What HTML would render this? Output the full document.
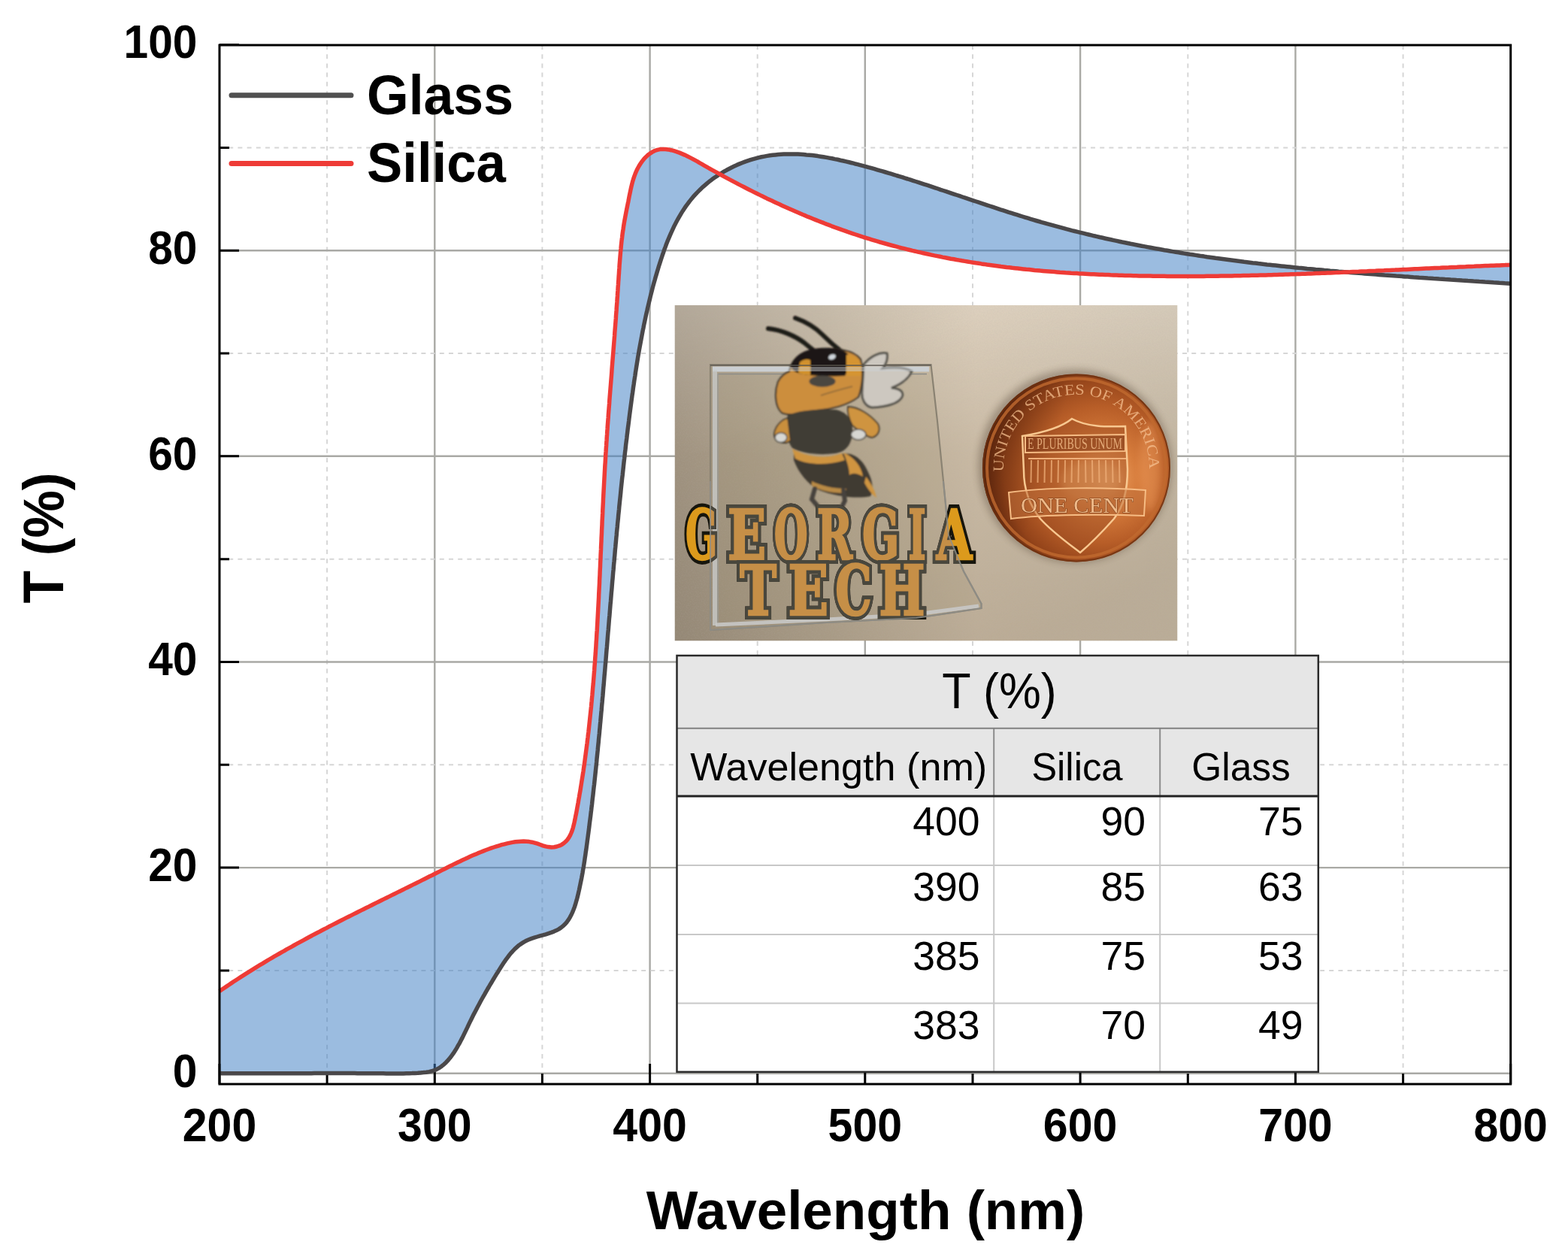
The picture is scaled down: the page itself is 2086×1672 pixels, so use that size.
<!DOCTYPE html>
<html><head><meta charset="utf-8"><title>Transmittance of Glass and Silica</title>
<style>
html,body{margin:0;padding:0;background:#fff;}
svg{display:block;}
text{font-family:"Liberation Sans",Arial,sans-serif;fill:#000;}
.gs{stroke:#a9a9a5;stroke-width:2.4;}
.gd{stroke:#d6d6d6;stroke-width:2;stroke-dasharray:6 6.2;}
.tl text{font-size:62.5px;font-weight:bold;}
.at{font-size:73px;font-weight:bold;}
.lg{font-size:74px;font-weight:bold;}
.th1{font-size:66px;}
.th2{font-size:52.5px;}
.td{font-size:53.5px;}
</style></head>
<body>
<svg width="2086" height="1672" viewBox="0 0 2086 1672">
<rect width="2086" height="1672" fill="#fff"/>
<line x1="435.1" y1="60.0" x2="435.1" y2="1442.0" class="gd"/>
<line x1="721.4" y1="60.0" x2="721.4" y2="1442.0" class="gd"/>
<line x1="1007.7" y1="60.0" x2="1007.7" y2="1442.0" class="gd"/>
<line x1="1294.0" y1="60.0" x2="1294.0" y2="1442.0" class="gd"/>
<line x1="1580.3" y1="60.0" x2="1580.3" y2="1442.0" class="gd"/>
<line x1="1866.6" y1="60.0" x2="1866.6" y2="1442.0" class="gd"/>
<line x1="578.3" y1="60.0" x2="578.3" y2="1442.0" class="gs"/>
<line x1="864.6" y1="60.0" x2="864.6" y2="1442.0" class="gs"/>
<line x1="1150.8" y1="60.0" x2="1150.8" y2="1442.0" class="gs"/>
<line x1="1437.1" y1="60.0" x2="1437.1" y2="1442.0" class="gs"/>
<line x1="1723.4" y1="60.0" x2="1723.4" y2="1442.0" class="gs"/>
<line x1="292.0" y1="1290.9" x2="2009.7" y2="1290.9" class="gd"/>
<line x1="292.0" y1="1017.3" x2="2009.7" y2="1017.3" class="gd"/>
<line x1="292.0" y1="743.7" x2="2009.7" y2="743.7" class="gd"/>
<line x1="292.0" y1="470.0" x2="2009.7" y2="470.0" class="gd"/>
<line x1="292.0" y1="196.4" x2="2009.7" y2="196.4" class="gd"/>
<line x1="292.0" y1="1427.7" x2="2009.7" y2="1427.7" class="gs"/>
<line x1="292.0" y1="1154.1" x2="2009.7" y2="1154.1" class="gs"/>
<line x1="292.0" y1="880.5" x2="2009.7" y2="880.5" class="gs"/>
<line x1="292.0" y1="606.8" x2="2009.7" y2="606.8" class="gs"/>
<line x1="292.0" y1="333.2" x2="2009.7" y2="333.2" class="gs"/>
<path d="M292.0,1427.7h26 M292.0,1290.9h13 M292.0,1154.1h26 M292.0,1017.3h13 M292.0,880.5h26 M292.0,743.7h13 M292.0,606.8h26 M292.0,470.0h13 M292.0,333.2h26 M292.0,196.4h13 M292.0,59.6h26 M292.0,1442.0v-27 M435.1,1442.0v-14 M578.3,1442.0v-27 M721.4,1442.0v-14 M864.6,1442.0v-27 M1007.7,1442.0v-14 M1150.8,1442.0v-27 M1294.0,1442.0v-14 M1437.1,1442.0v-27 M1580.3,1442.0v-14 M1723.4,1442.0v-27 M1866.6,1442.0v-14 M2009.7,1442.0v-27" stroke="#000" stroke-width="3" fill="none"/>
<path d="M292.0,1318.5 L295.1,1316.3 L298.2,1314.2 L301.3,1312.1 L304.5,1310.0 L307.6,1307.9 L310.7,1305.8 L313.9,1303.7 L317.0,1301.7 L320.2,1299.6 L323.4,1297.6 L326.5,1295.6 L329.7,1293.6 L332.9,1291.6 L336.1,1289.6 L339.3,1287.6 L342.5,1285.6 L345.7,1283.7 L348.9,1281.8 L352.1,1279.8 L355.3,1277.9 L358.5,1276.0 L361.8,1274.1 L365.0,1272.2 L368.2,1270.4 L371.5,1268.5 L374.7,1266.6 L378.0,1264.8 L381.2,1262.9 L384.5,1261.1 L387.8,1259.3 L391.0,1257.5 L394.3,1255.7 L397.6,1253.9 L400.9,1252.1 L404.2,1250.3 L407.5,1248.5 L410.7,1246.8 L414.0,1245.0 L417.3,1243.2 L420.6,1241.5 L424.0,1239.8 L427.3,1238.0 L430.6,1236.3 L433.9,1234.6 L437.2,1232.8 L440.5,1231.1 L443.9,1229.4 L447.2,1227.7 L450.5,1226.0 L453.9,1224.3 L457.2,1222.6 L460.5,1220.9 L463.9,1219.2 L467.2,1217.6 L470.6,1215.9 L473.9,1214.2 L477.3,1212.5 L480.6,1210.9 L484.0,1209.2 L487.3,1207.5 L490.7,1205.9 L494.0,1204.2 L497.4,1202.5 L500.7,1200.9 L504.1,1199.2 L507.5,1197.5 L510.8,1195.9 L514.2,1194.2 L517.5,1192.6 L520.9,1190.9 L524.3,1189.2 L527.6,1187.6 L531.0,1185.9 L534.4,1184.3 L537.7,1182.6 L541.1,1180.9 L544.5,1179.3 L547.8,1177.6 L551.2,1175.9 L554.6,1174.3 L558.0,1172.6 L561.3,1170.9 L564.7,1169.2 L568.1,1167.5 L571.4,1165.8 L574.8,1164.2 L578.1,1162.5 L581.5,1160.8 L584.9,1159.1 L588.2,1157.4 L591.6,1155.7 L595.0,1154.0 L598.3,1152.3 L601.7,1150.6 L605.1,1148.9 L608.5,1147.3 L611.9,1145.7 L615.3,1144.0 L618.7,1142.5 L622.1,1140.9 L625.5,1139.3 L628.9,1137.8 L632.4,1136.4 L635.8,1134.9 L639.3,1133.5 L642.8,1132.1 L646.2,1130.8 L649.7,1129.5 L653.3,1128.2 L656.8,1127.0 L660.3,1125.9 L663.9,1124.8 L667.5,1123.7 L671.1,1122.8 L674.7,1121.9 L678.3,1121.1 L682.0,1120.4 L685.6,1119.8 L689.3,1119.4 L692.9,1119.2 L696.6,1119.1 L700.3,1119.3 L704.0,1119.6 L707.6,1120.2 L711.3,1121.1 L715.0,1122.2 L718.6,1123.5 L722.3,1124.8 L726.0,1125.9 L729.7,1126.6 L733.5,1126.9 L737.2,1126.7 L740.8,1126.0 L744.2,1124.9 L747.4,1123.4 L750.2,1121.5 L752.7,1119.3 L754.9,1116.9 L756.8,1114.2 L758.5,1111.2 L759.9,1108.0 L761.2,1104.7 L762.3,1101.2 L763.2,1097.6 L764.1,1093.9 L764.9,1090.2 L765.6,1086.4 L766.4,1082.6 L767.1,1078.9 L767.8,1075.1 L768.5,1071.3 L769.2,1067.5 L769.8,1063.7 L770.5,1060.0 L771.1,1056.2 L771.8,1052.4 L772.4,1048.7 L773.0,1044.9 L773.6,1041.1 L774.2,1037.3 L774.8,1033.6 L775.4,1029.8 L776.0,1026.1 L776.5,1022.3 L777.1,1018.5 L777.6,1014.8 L778.1,1011.0 L778.6,1007.2 L779.1,1003.5 L779.6,999.7 L780.1,996.0 L780.6,992.2 L781.1,988.5 L781.5,984.7 L782.0,981.0 L782.4,977.2 L782.9,973.5 L783.3,969.7 L783.7,966.0 L784.1,962.2 L784.5,958.5 L784.9,954.7 L785.3,951.0 L785.7,947.2 L786.1,943.5 L786.5,939.8 L786.8,936.0 L787.2,932.3 L787.5,928.5 L787.9,924.8 L788.2,921.1 L788.5,917.3 L788.8,913.6 L789.2,909.9 L789.5,906.1 L789.8,902.4 L790.1,898.6 L790.4,894.9 L790.7,891.2 L790.9,887.4 L791.2,883.7 L791.5,880.0 L791.7,876.3 L792.0,872.5 L792.3,868.8 L792.5,865.1 L792.8,861.3 L793.0,857.6 L793.2,853.9 L793.5,850.1 L793.7,846.4 L793.9,842.7 L794.2,839.0 L794.4,835.2 L794.6,831.5 L794.8,827.8 L795.0,824.0 L795.2,820.3 L795.4,816.6 L795.6,812.9 L795.8,809.1 L796.0,805.4 L796.2,801.7 L796.4,798.0 L796.6,794.2 L796.7,790.5 L796.9,786.8 L797.1,783.1 L797.3,779.3 L797.5,775.6 L797.6,771.9 L797.8,768.2 L798.0,764.4 L798.1,760.7 L798.3,757.0 L798.5,753.3 L798.6,749.5 L798.8,745.8 L799.0,742.1 L799.1,738.3 L799.3,734.6 L799.5,730.9 L799.6,727.2 L799.8,723.4 L800.0,719.7 L800.1,716.0 L800.3,712.3 L800.5,708.5 L800.6,704.8 L800.8,701.1 L801.0,697.3 L801.1,693.6 L801.3,689.9 L801.5,686.1 L801.7,682.4 L801.8,678.7 L802.0,674.9 L802.2,671.2 L802.4,667.5 L802.5,663.7 L802.7,660.0 L802.9,656.3 L803.1,652.5 L803.3,648.8 L803.5,645.1 L803.7,641.3 L803.9,637.6 L804.1,633.9 L804.3,630.1 L804.5,626.4 L804.7,622.6 L804.9,618.9 L805.2,615.1 L805.4,611.4 L805.6,607.7 L805.8,603.9 L806.1,600.2 L806.3,596.4 L806.6,592.7 L806.8,588.9 L807.1,585.2 L807.3,581.4 L807.6,577.7 L807.8,573.9 L808.1,570.2 L808.3,566.4 L808.6,562.7 L808.9,558.9 L809.2,555.2 L809.4,551.4 L809.7,547.7 L810.0,543.9 L810.3,540.2 L810.6,536.4 L810.8,532.7 L811.1,528.9 L811.4,525.1 L811.7,521.4 L812.0,517.6 L812.3,513.9 L812.6,510.1 L812.9,506.4 L813.2,502.6 L813.5,498.9 L813.8,495.1 L814.0,491.4 L814.3,487.6 L814.6,483.9 L814.9,480.1 L815.2,476.4 L815.5,472.6 L815.8,468.9 L816.1,465.1 L816.4,461.3 L816.7,457.6 L817.0,453.9 L817.3,450.1 L817.6,446.4 L817.8,442.6 L818.1,438.9 L818.4,435.1 L818.7,431.4 L819.0,427.6 L819.3,423.9 L819.5,420.1 L819.8,416.4 L820.1,412.7 L820.3,408.9 L820.6,405.2 L820.9,401.4 L821.1,397.7 L821.4,394.0 L821.6,390.2 L821.9,386.5 L822.1,382.8 L822.4,379.0 L822.6,375.3 L822.9,371.6 L823.1,367.9 L823.4,364.1 L823.6,360.4 L823.9,356.7 L824.1,353.0 L824.4,349.2 L824.7,345.5 L825.0,341.8 L825.3,338.1 L825.6,334.4 L826.0,330.7 L826.3,327.0 L826.7,323.2 L827.1,319.5 L827.6,315.8 L828.0,312.1 L828.5,308.4 L829.1,304.7 L829.6,301.0 L830.2,297.3 L830.8,293.7 L831.5,290.0 L832.2,286.3 L832.9,282.6 L833.6,278.9 L834.4,275.2 L835.1,271.5 L835.9,267.8 L836.6,264.0 L837.3,260.3 L838.1,256.6 L838.9,252.8 L839.7,249.1 L840.6,245.4 L841.5,241.8 L842.6,238.2 L843.8,234.6 L845.1,231.1 L846.5,227.7 L848.2,224.3 L850.0,221.0 L852.0,217.8 L854.2,214.6 L856.5,211.7 L859.1,208.9 L861.9,206.3 L864.8,204.1 L867.9,202.1 L871.1,200.5 L874.5,199.4 L878.0,198.6 L881.6,198.4 L885.3,198.5 L889.1,198.9 L892.8,199.7 L896.6,200.7 L900.3,201.8 L903.9,203.1 L907.4,204.6 L910.9,206.1 L914.3,207.7 L917.6,209.4 L920.9,211.1 L924.2,212.9 L927.5,214.7 L930.7,216.6 L933.9,218.4 L937.2,220.3 L940.4,222.1 L943.6,224.0 L946.9,225.8 L950.2,227.6 L953.4,229.4 L956.7,231.2 L960.0,233.0 L963.3,234.8 L966.6,236.6 L969.9,238.4 L973.2,240.1 L976.5,241.9 L979.8,243.6 L983.1,245.4 L986.5,247.1 L989.8,248.8 L993.1,250.5 L996.5,252.2 L999.8,253.9 L1003.2,255.6 L1006.6,257.3 L1009.9,258.9 L1013.3,260.6 L1016.7,262.2 L1020.1,263.9 L1023.5,265.5 L1026.9,267.1 L1030.3,268.7 L1033.7,270.3 L1037.1,271.8 L1040.5,273.4 L1044.0,275.0 L1047.4,276.5 L1050.8,278.0 L1054.3,279.5 L1057.7,281.0 L1061.2,282.5 L1064.6,284.0 L1068.1,285.5 L1071.6,286.9 L1075.0,288.4 L1078.5,289.8 L1082.0,291.2 L1085.5,292.6 L1089.0,294.0 L1092.5,295.4 L1096.0,296.7 L1099.5,298.1 L1103.0,299.4 L1106.5,300.8 L1110.0,302.1 L1113.6,303.3 L1117.1,304.6 L1120.6,305.9 L1124.2,307.1 L1127.7,308.4 L1131.2,309.6 L1134.8,310.8 L1138.4,312.0 L1141.9,313.2 L1145.5,314.3 L1149.0,315.5 L1152.6,316.6 L1156.2,317.7 L1159.8,318.8 L1163.4,319.9 L1166.9,320.9 L1170.5,322.0 L1174.1,323.0 L1177.7,324.0 L1181.3,325.0 L1184.9,326.0 L1188.6,327.0 L1192.2,327.9 L1195.8,328.9 L1199.4,329.8 L1203.0,330.7 L1206.7,331.6 L1210.3,332.5 L1213.9,333.4 L1217.6,334.2 L1221.2,335.1 L1224.8,335.9 L1228.5,336.7 L1232.1,337.5 L1235.8,338.3 L1239.4,339.1 L1243.1,339.9 L1246.8,340.6 L1250.4,341.3 L1254.1,342.1 L1257.8,342.8 L1261.4,343.5 L1265.1,344.2 L1268.8,344.8 L1272.5,345.5 L1276.2,346.1 L1279.8,346.8 L1283.5,347.4 L1287.2,348.0 L1290.9,348.6 L1294.6,349.2 L1298.3,349.8 L1302.0,350.3 L1305.7,350.9 L1309.4,351.4 L1313.1,352.0 L1316.8,352.5 L1320.5,353.0 L1324.3,353.5 L1328.0,354.0 L1331.7,354.5 L1335.4,354.9 L1339.1,355.4 L1342.8,355.8 L1346.6,356.3 L1350.3,356.7 L1354.0,357.1 L1357.8,357.5 L1361.5,357.9 L1365.2,358.3 L1368.9,358.6 L1372.7,359.0 L1376.4,359.4 L1380.2,359.7 L1383.9,360.1 L1387.6,360.4 L1391.4,360.7 L1395.1,361.0 L1398.9,361.3 L1402.6,361.6 L1406.3,361.9 L1410.1,362.2 L1413.8,362.4 L1417.6,362.7 L1421.3,362.9 L1425.1,363.2 L1428.8,363.4 L1432.6,363.6 L1436.3,363.9 L1440.1,364.1 L1443.8,364.3 L1447.6,364.5 L1451.4,364.7 L1455.1,364.8 L1458.9,365.0 L1462.6,365.2 L1466.4,365.3 L1470.1,365.5 L1473.9,365.6 L1477.6,365.8 L1481.4,365.9 L1485.2,366.0 L1488.9,366.2 L1492.7,366.3 L1496.4,366.4 L1500.2,366.5 L1503.9,366.6 L1507.7,366.7 L1511.5,366.8 L1515.2,366.9 L1519.0,366.9 L1522.7,367.0 L1526.5,367.1 L1530.2,367.1 L1534.0,367.2 L1537.8,367.2 L1541.5,367.3 L1545.3,367.3 L1549.0,367.3 L1552.8,367.4 L1556.5,367.4 L1560.3,367.4 L1564.0,367.4 L1567.8,367.5 L1571.5,367.5 L1575.3,367.5 L1579.0,367.5 L1582.8,367.5 L1586.5,367.4 L1590.3,367.4 L1594.0,367.4 L1597.8,367.4 L1601.5,367.4 L1605.3,367.3 L1609.0,367.3 L1612.8,367.3 L1616.5,367.2 L1620.2,367.2 L1624.0,367.1 L1627.7,367.1 L1631.5,367.0 L1635.2,367.0 L1639.0,366.9 L1642.7,366.8 L1646.5,366.8 L1650.2,366.7 L1654.0,366.6 L1657.7,366.5 L1661.4,366.4 L1665.2,366.3 L1668.9,366.3 L1672.7,366.2 L1676.4,366.1 L1680.2,366.0 L1683.9,365.9 L1687.6,365.8 L1691.4,365.7 L1695.1,365.5 L1698.9,365.4 L1702.6,365.3 L1706.4,365.2 L1710.1,365.1 L1713.8,365.0 L1717.6,364.8 L1721.3,364.7 L1725.1,364.6 L1728.8,364.4 L1732.5,364.3 L1736.3,364.2 L1740.0,364.0 L1743.8,363.9 L1747.5,363.8 L1751.3,363.6 L1755.0,363.5 L1758.7,363.3 L1762.5,363.2 L1766.2,363.0 L1770.0,362.9 L1773.7,362.7 L1777.4,362.6 L1781.2,362.4 L1784.9,362.3 L1788.7,362.1 L1792.4,361.9 L1796.1,361.8 L1799.9,361.6 L1803.6,361.4 L1807.4,361.3 L1811.1,361.1 L1814.9,360.9 L1818.6,360.8 L1822.3,360.6 L1826.1,360.4 L1829.8,360.3 L1833.6,360.1 L1837.3,359.9 L1841.0,359.8 L1844.8,359.6 L1848.5,359.4 L1852.3,359.2 L1856.0,359.1 L1859.8,358.9 L1863.5,358.7 L1867.2,358.5 L1871.0,358.4 L1874.7,358.2 L1878.5,358.0 L1882.2,357.8 L1886.0,357.7 L1889.7,357.5 L1893.5,357.3 L1897.2,357.1 L1900.9,357.0 L1904.7,356.8 L1908.4,356.6 L1912.2,356.4 L1915.9,356.3 L1919.7,356.1 L1923.4,355.9 L1927.2,355.8 L1930.9,355.6 L1934.7,355.4 L1938.4,355.3 L1942.2,355.1 L1945.9,354.9 L1949.7,354.8 L1953.4,354.6 L1957.2,354.4 L1960.9,354.3 L1964.7,354.1 L1968.4,354.0 L1972.2,353.8 L1975.9,353.6 L1979.7,353.5 L1983.4,353.3 L1987.2,353.2 L1990.9,353.0 L1994.7,352.9 L1998.4,352.7 L2002.2,352.6 L2005.9,352.4 L2009.7,352.3 L2009.7,377.2 L2005.9,376.9 L2002.1,376.7 L1998.3,376.4 L1994.6,376.2 L1990.8,375.9 L1987.0,375.7 L1983.2,375.4 L1979.4,375.2 L1975.6,375.0 L1971.8,374.7 L1968.0,374.5 L1964.2,374.2 L1960.4,374.0 L1956.6,373.7 L1952.8,373.5 L1949.0,373.2 L1945.2,373.0 L1941.4,372.7 L1937.6,372.5 L1933.8,372.2 L1930.0,372.0 L1926.2,371.7 L1922.3,371.5 L1918.5,371.2 L1914.7,371.0 L1910.9,370.7 L1907.1,370.5 L1903.3,370.2 L1899.5,370.0 L1895.7,369.7 L1891.8,369.4 L1888.0,369.2 L1884.2,368.9 L1880.4,368.7 L1876.6,368.4 L1872.8,368.1 L1868.9,367.9 L1865.1,367.6 L1861.3,367.3 L1857.5,367.1 L1853.7,366.8 L1849.8,366.5 L1846.0,366.2 L1842.2,366.0 L1838.4,365.7 L1834.5,365.4 L1830.7,365.1 L1826.9,364.8 L1823.1,364.5 L1819.3,364.2 L1815.4,363.9 L1811.6,363.6 L1807.8,363.3 L1804.0,363.0 L1800.1,362.7 L1796.3,362.4 L1792.5,362.1 L1788.7,361.8 L1784.8,361.5 L1781.0,361.2 L1777.2,360.8 L1773.4,360.5 L1769.6,360.2 L1765.7,359.8 L1761.9,359.5 L1758.1,359.1 L1754.3,358.8 L1750.4,358.5 L1746.6,358.1 L1742.8,357.7 L1739.0,357.4 L1735.2,357.0 L1731.3,356.6 L1727.5,356.3 L1723.7,355.9 L1719.9,355.5 L1716.1,355.1 L1712.3,354.7 L1708.4,354.3 L1704.6,353.9 L1700.8,353.5 L1697.0,353.1 L1693.2,352.7 L1689.4,352.3 L1685.6,351.9 L1681.8,351.4 L1678.0,351.0 L1674.1,350.6 L1670.3,350.1 L1666.5,349.7 L1662.7,349.2 L1658.9,348.7 L1655.1,348.3 L1651.3,347.8 L1647.5,347.3 L1643.7,346.8 L1639.9,346.3 L1636.1,345.8 L1632.3,345.3 L1628.5,344.8 L1624.7,344.3 L1620.9,343.8 L1617.1,343.3 L1613.4,342.7 L1609.6,342.2 L1605.8,341.7 L1602.0,341.1 L1598.2,340.6 L1594.4,340.0 L1590.6,339.4 L1586.9,338.8 L1583.1,338.3 L1579.3,337.7 L1575.5,337.1 L1571.8,336.5 L1568.0,335.8 L1564.2,335.2 L1560.4,334.6 L1556.7,334.0 L1552.9,333.3 L1549.1,332.7 L1545.4,332.0 L1541.6,331.3 L1537.9,330.7 L1534.1,330.0 L1530.4,329.3 L1526.6,328.6 L1522.9,327.9 L1519.1,327.2 L1515.4,326.5 L1511.6,325.7 L1507.9,325.0 L1504.1,324.3 L1500.4,323.5 L1496.7,322.7 L1492.9,322.0 L1489.2,321.2 L1485.5,320.4 L1481.7,319.6 L1478.0,318.8 L1474.3,318.0 L1470.6,317.2 L1466.8,316.3 L1463.1,315.5 L1459.4,314.6 L1455.7,313.8 L1452.0,312.9 L1448.3,312.0 L1444.6,311.1 L1440.9,310.2 L1437.2,309.3 L1433.5,308.4 L1429.8,307.5 L1426.1,306.6 L1422.4,305.6 L1418.7,304.7 L1415.1,303.7 L1411.4,302.7 L1407.7,301.7 L1404.0,300.7 L1400.4,299.7 L1396.7,298.7 L1393.0,297.7 L1389.4,296.6 L1385.7,295.6 L1382.0,294.5 L1378.4,293.5 L1374.7,292.4 L1371.1,291.3 L1367.5,290.2 L1363.8,289.1 L1360.2,288.0 L1356.5,286.8 L1352.9,285.7 L1349.3,284.6 L1345.6,283.4 L1342.0,282.3 L1338.4,281.1 L1334.7,279.9 L1331.1,278.8 L1327.5,277.6 L1323.9,276.4 L1320.2,275.2 L1316.6,274.0 L1313.0,272.8 L1309.4,271.6 L1305.7,270.4 L1302.1,269.2 L1298.5,268.0 L1294.9,266.8 L1291.2,265.6 L1287.6,264.4 L1284.0,263.2 L1280.4,262.0 L1276.7,260.7 L1273.1,259.5 L1269.5,258.3 L1265.8,257.1 L1262.2,255.9 L1258.6,254.7 L1255.0,253.5 L1251.3,252.3 L1247.7,251.0 L1244.0,249.8 L1240.4,248.6 L1236.8,247.4 L1233.1,246.2 L1229.5,245.1 L1225.8,243.9 L1222.1,242.7 L1218.5,241.5 L1214.8,240.3 L1211.2,239.2 L1207.5,238.0 L1203.8,236.9 L1200.2,235.7 L1196.5,234.6 L1192.8,233.5 L1189.1,232.3 L1185.4,231.2 L1181.7,230.1 L1178.0,229.0 L1174.3,227.9 L1170.6,226.9 L1166.9,225.8 L1163.2,224.7 L1159.5,223.7 L1155.7,222.7 L1152.0,221.6 L1148.3,220.6 L1144.5,219.6 L1140.8,218.6 L1137.0,217.7 L1133.3,216.7 L1129.5,215.8 L1125.7,214.9 L1122.0,214.0 L1118.2,213.2 L1114.4,212.3 L1110.6,211.6 L1106.9,210.8 L1103.1,210.1 L1099.3,209.4 L1095.5,208.8 L1091.8,208.2 L1088.0,207.6 L1084.2,207.1 L1080.4,206.6 L1076.6,206.2 L1072.9,205.9 L1069.1,205.5 L1065.3,205.3 L1061.6,205.1 L1057.8,205.0 L1054.0,204.9 L1050.3,204.9 L1046.5,204.9 L1042.8,205.1 L1039.1,205.3 L1035.3,205.5 L1031.6,205.9 L1027.9,206.3 L1024.2,206.8 L1020.4,207.4 L1016.7,208.1 L1013.0,208.8 L1009.4,209.6 L1005.7,210.6 L1002.0,211.6 L998.4,212.7 L994.7,213.9 L991.1,215.1 L987.5,216.5 L984.0,217.9 L980.4,219.4 L976.9,221.0 L973.4,222.7 L970.0,224.5 L966.6,226.3 L963.2,228.2 L959.9,230.2 L956.6,232.3 L953.4,234.4 L950.2,236.6 L947.1,238.8 L944.0,241.2 L941.0,243.6 L938.1,246.1 L935.2,248.6 L932.4,251.2 L929.7,253.9 L927.0,256.6 L924.4,259.4 L921.9,262.2 L919.5,265.1 L917.1,268.1 L914.9,271.1 L912.6,274.1 L910.5,277.2 L908.4,280.4 L906.4,283.6 L904.5,286.8 L902.6,290.1 L900.7,293.5 L899.0,296.8 L897.2,300.2 L895.6,303.6 L894.0,307.1 L892.4,310.6 L890.9,314.1 L889.4,317.7 L887.9,321.2 L886.5,324.8 L885.2,328.4 L883.8,332.0 L882.6,335.7 L881.3,339.3 L880.1,343.0 L878.9,346.7 L877.7,350.3 L876.5,354.0 L875.4,357.7 L874.3,361.4 L873.2,365.1 L872.1,368.8 L871.1,372.5 L870.0,376.2 L869.0,379.9 L868.0,383.6 L867.1,387.3 L866.1,391.0 L865.2,394.7 L864.3,398.5 L863.4,402.2 L862.5,405.9 L861.6,409.6 L860.8,413.4 L859.9,417.1 L859.1,420.8 L858.3,424.6 L857.5,428.3 L856.7,432.0 L856.0,435.8 L855.2,439.5 L854.5,443.3 L853.8,447.0 L853.1,450.7 L852.4,454.5 L851.7,458.2 L851.0,462.0 L850.3,465.8 L849.7,469.5 L849.0,473.3 L848.4,477.0 L847.8,480.8 L847.2,484.5 L846.6,488.3 L846.0,492.1 L845.4,495.8 L844.9,499.6 L844.3,503.4 L843.7,507.1 L843.2,510.9 L842.6,514.7 L842.1,518.5 L841.6,522.2 L841.0,526.0 L840.5,529.8 L840.0,533.6 L839.5,537.3 L839.0,541.1 L838.5,544.9 L838.0,548.7 L837.5,552.5 L837.0,556.3 L836.6,560.0 L836.1,563.8 L835.6,567.6 L835.1,571.4 L834.7,575.2 L834.2,579.0 L833.8,582.8 L833.3,586.5 L832.8,590.3 L832.4,594.1 L832.0,597.9 L831.5,601.7 L831.1,605.5 L830.7,609.3 L830.2,613.1 L829.8,616.9 L829.4,620.7 L829.0,624.5 L828.6,628.3 L828.2,632.1 L827.7,635.9 L827.3,639.7 L826.9,643.5 L826.5,647.3 L826.1,651.1 L825.8,654.9 L825.4,658.7 L825.0,662.5 L824.6,666.3 L824.2,670.1 L823.8,673.9 L823.5,677.7 L823.1,681.5 L822.7,685.3 L822.4,689.1 L822.0,692.9 L821.6,696.7 L821.3,700.5 L820.9,704.3 L820.5,708.1 L820.2,712.0 L819.8,715.8 L819.5,719.6 L819.1,723.4 L818.8,727.2 L818.4,731.0 L818.1,734.8 L817.8,738.6 L817.4,742.4 L817.1,746.3 L816.7,750.1 L816.4,753.9 L816.1,757.7 L815.7,761.5 L815.4,765.3 L815.1,769.1 L814.7,773.0 L814.4,776.8 L814.1,780.6 L813.8,784.4 L813.4,788.2 L813.1,792.0 L812.8,795.8 L812.5,799.7 L812.1,803.5 L811.8,807.3 L811.5,811.1 L811.2,814.9 L810.9,818.8 L810.5,822.6 L810.2,826.4 L809.9,830.2 L809.6,834.0 L809.3,837.8 L808.9,841.7 L808.6,845.5 L808.3,849.3 L808.0,853.1 L807.7,856.9 L807.4,860.8 L807.0,864.6 L806.7,868.4 L806.4,872.2 L806.1,876.0 L805.8,879.8 L805.4,883.7 L805.1,887.5 L804.8,891.3 L804.5,895.1 L804.1,898.9 L803.8,902.8 L803.5,906.6 L803.2,910.4 L802.8,914.2 L802.5,918.0 L802.2,921.8 L801.9,925.7 L801.5,929.5 L801.2,933.3 L800.8,937.1 L800.5,940.9 L800.2,944.7 L799.8,948.5 L799.5,952.4 L799.1,956.2 L798.8,960.0 L798.4,963.8 L798.1,967.6 L797.7,971.4 L797.4,975.2 L797.0,979.0 L796.6,982.8 L796.3,986.6 L795.9,990.4 L795.5,994.2 L795.2,998.0 L794.8,1001.8 L794.4,1005.6 L794.0,1009.4 L793.7,1013.2 L793.3,1017.0 L792.9,1020.8 L792.5,1024.6 L792.1,1028.4 L791.7,1032.2 L791.3,1036.0 L790.9,1039.8 L790.5,1043.6 L790.0,1047.4 L789.6,1051.2 L789.2,1054.9 L788.8,1058.7 L788.3,1062.5 L787.9,1066.3 L787.5,1070.1 L787.0,1073.8 L786.6,1077.6 L786.1,1081.4 L785.7,1085.2 L785.2,1088.9 L784.7,1092.7 L784.2,1096.5 L783.8,1100.2 L783.3,1104.0 L782.8,1107.8 L782.3,1111.5 L781.8,1115.3 L781.3,1119.0 L780.8,1122.8 L780.3,1126.5 L779.8,1130.3 L779.2,1134.0 L778.7,1137.8 L778.1,1141.6 L777.6,1145.3 L777.0,1149.1 L776.4,1152.9 L775.7,1156.6 L775.1,1160.4 L774.4,1164.2 L773.7,1168.1 L772.9,1171.9 L772.1,1175.7 L771.3,1179.6 L770.5,1183.5 L769.6,1187.4 L768.7,1191.3 L767.7,1195.2 L766.6,1199.1 L765.5,1202.9 L764.3,1206.6 L762.9,1210.3 L761.4,1213.9 L759.8,1217.3 L758.0,1220.6 L756.1,1223.7 L754.0,1226.6 L751.6,1229.3 L749.1,1231.7 L746.4,1233.9 L743.4,1235.9 L740.2,1237.6 L736.8,1239.1 L733.3,1240.4 L729.7,1241.6 L726.0,1242.8 L722.2,1243.9 L718.4,1244.9 L714.7,1246.0 L710.9,1247.2 L707.2,1248.4 L703.6,1249.8 L700.2,1251.3 L696.8,1253.1 L693.7,1255.1 L690.6,1257.2 L687.8,1259.6 L685.0,1262.1 L682.4,1264.8 L679.9,1267.6 L677.5,1270.5 L675.2,1273.6 L672.9,1276.7 L670.7,1279.8 L668.6,1283.1 L666.5,1286.3 L664.4,1289.6 L662.4,1292.9 L660.3,1296.1 L658.3,1299.4 L656.3,1302.7 L654.4,1306.0 L652.4,1309.2 L650.5,1312.5 L648.5,1315.8 L646.6,1319.1 L644.8,1322.4 L642.9,1325.7 L641.0,1329.0 L639.2,1332.3 L637.4,1335.7 L635.6,1339.0 L633.8,1342.4 L632.1,1345.7 L630.3,1349.1 L628.6,1352.5 L626.9,1356.0 L625.2,1359.4 L623.5,1362.9 L621.9,1366.4 L620.2,1369.9 L618.5,1373.4 L616.8,1376.9 L615.1,1380.4 L613.3,1383.8 L611.5,1387.3 L609.5,1390.7 L607.6,1394.1 L605.5,1397.5 L603.3,1400.9 L601.0,1404.1 L598.6,1407.3 L596.0,1410.3 L593.4,1413.2 L590.6,1415.8 L587.6,1418.2 L584.6,1420.4 L581.3,1422.2 L578.0,1423.6 L574.5,1424.8 L570.8,1425.6 L567.1,1426.2 L563.4,1426.6 L559.6,1426.9 L555.8,1427.2 L552.0,1427.4 L548.2,1427.6 L544.4,1427.7 L540.5,1427.8 L536.7,1427.9 L532.9,1427.9 L529.1,1427.9 L525.3,1427.9 L521.4,1427.9 L517.6,1427.9 L513.8,1427.9 L509.9,1427.8 L506.1,1427.8 L502.3,1427.8 L498.5,1427.7 L494.6,1427.7 L490.8,1427.7 L487.0,1427.7 L483.2,1427.7 L479.3,1427.7 L475.5,1427.7 L471.7,1427.6 L467.9,1427.6 L464.0,1427.6 L460.2,1427.6 L456.4,1427.6 L452.6,1427.6 L448.7,1427.6 L444.9,1427.6 L441.1,1427.6 L437.3,1427.6 L433.5,1427.6 L429.6,1427.6 L425.8,1427.6 L422.0,1427.6 L418.2,1427.6 L414.3,1427.7 L410.5,1427.7 L406.7,1427.7 L402.9,1427.7 L399.1,1427.7 L395.2,1427.7 L391.4,1427.7 L387.6,1427.7 L383.8,1427.7 L379.9,1427.7 L376.1,1427.7 L372.3,1427.7 L368.5,1427.7 L364.7,1427.7 L360.8,1427.7 L357.0,1427.8 L353.2,1427.8 L349.4,1427.8 L345.5,1427.8 L341.7,1427.8 L337.9,1427.8 L334.1,1427.8 L330.2,1427.8 L326.4,1427.7 L322.6,1427.7 L318.8,1427.7 L314.9,1427.7 L311.1,1427.7 L307.3,1427.7 L303.5,1427.7 L299.6,1427.7 L295.8,1427.7 L292.0,1427.6 Z" fill="#3f7fc4" fill-opacity="0.52" stroke="none"/>
<path d="M292.0,1427.6 L295.8,1427.7 L299.6,1427.7 L303.5,1427.7 L307.3,1427.7 L311.1,1427.7 L314.9,1427.7 L318.8,1427.7 L322.6,1427.7 L326.4,1427.7 L330.2,1427.8 L334.1,1427.8 L337.9,1427.8 L341.7,1427.8 L345.5,1427.8 L349.4,1427.8 L353.2,1427.8 L357.0,1427.8 L360.8,1427.7 L364.7,1427.7 L368.5,1427.7 L372.3,1427.7 L376.1,1427.7 L379.9,1427.7 L383.8,1427.7 L387.6,1427.7 L391.4,1427.7 L395.2,1427.7 L399.1,1427.7 L402.9,1427.7 L406.7,1427.7 L410.5,1427.7 L414.3,1427.7 L418.2,1427.6 L422.0,1427.6 L425.8,1427.6 L429.6,1427.6 L433.5,1427.6 L437.3,1427.6 L441.1,1427.6 L444.9,1427.6 L448.7,1427.6 L452.6,1427.6 L456.4,1427.6 L460.2,1427.6 L464.0,1427.6 L467.9,1427.6 L471.7,1427.6 L475.5,1427.7 L479.3,1427.7 L483.2,1427.7 L487.0,1427.7 L490.8,1427.7 L494.6,1427.7 L498.5,1427.7 L502.3,1427.8 L506.1,1427.8 L509.9,1427.8 L513.8,1427.9 L517.6,1427.9 L521.4,1427.9 L525.3,1427.9 L529.1,1427.9 L532.9,1427.9 L536.7,1427.9 L540.5,1427.8 L544.4,1427.7 L548.2,1427.6 L552.0,1427.4 L555.8,1427.2 L559.6,1426.9 L563.4,1426.6 L567.1,1426.2 L570.8,1425.6 L574.5,1424.8 L578.0,1423.6 L581.3,1422.2 L584.6,1420.4 L587.6,1418.2 L590.6,1415.8 L593.4,1413.2 L596.0,1410.3 L598.6,1407.3 L601.0,1404.1 L603.3,1400.9 L605.5,1397.5 L607.6,1394.1 L609.5,1390.7 L611.5,1387.3 L613.3,1383.8 L615.1,1380.4 L616.8,1376.9 L618.5,1373.4 L620.2,1369.9 L621.9,1366.4 L623.5,1362.9 L625.2,1359.4 L626.9,1356.0 L628.6,1352.5 L630.3,1349.1 L632.1,1345.7 L633.8,1342.4 L635.6,1339.0 L637.4,1335.7 L639.2,1332.3 L641.0,1329.0 L642.9,1325.7 L644.8,1322.4 L646.6,1319.1 L648.5,1315.8 L650.5,1312.5 L652.4,1309.2 L654.4,1306.0 L656.3,1302.7 L658.3,1299.4 L660.3,1296.1 L662.4,1292.9 L664.4,1289.6 L666.5,1286.3 L668.6,1283.1 L670.7,1279.8 L672.9,1276.7 L675.2,1273.6 L677.5,1270.5 L679.9,1267.6 L682.4,1264.8 L685.0,1262.1 L687.8,1259.6 L690.6,1257.2 L693.7,1255.1 L696.8,1253.1 L700.2,1251.3 L703.6,1249.8 L707.2,1248.4 L710.9,1247.2 L714.7,1246.0 L718.4,1244.9 L722.2,1243.9 L726.0,1242.8 L729.7,1241.6 L733.3,1240.4 L736.8,1239.1 L740.2,1237.6 L743.4,1235.9 L746.4,1233.9 L749.1,1231.7 L751.6,1229.3 L754.0,1226.6 L756.1,1223.7 L758.0,1220.6 L759.8,1217.3 L761.4,1213.9 L762.9,1210.3 L764.3,1206.6 L765.5,1202.9 L766.6,1199.1 L767.7,1195.2 L768.7,1191.3 L769.6,1187.4 L770.5,1183.5 L771.3,1179.6 L772.1,1175.7 L772.9,1171.9 L773.7,1168.1 L774.4,1164.2 L775.1,1160.4 L775.7,1156.6 L776.4,1152.9 L777.0,1149.1 L777.6,1145.3 L778.1,1141.6 L778.7,1137.8 L779.2,1134.0 L779.8,1130.3 L780.3,1126.5 L780.8,1122.8 L781.3,1119.0 L781.8,1115.3 L782.3,1111.5 L782.8,1107.8 L783.3,1104.0 L783.8,1100.2 L784.2,1096.5 L784.7,1092.7 L785.2,1088.9 L785.7,1085.2 L786.1,1081.4 L786.6,1077.6 L787.0,1073.8 L787.5,1070.1 L787.9,1066.3 L788.3,1062.5 L788.8,1058.7 L789.2,1054.9 L789.6,1051.2 L790.0,1047.4 L790.5,1043.6 L790.9,1039.8 L791.3,1036.0 L791.7,1032.2 L792.1,1028.4 L792.5,1024.6 L792.9,1020.8 L793.3,1017.0 L793.7,1013.2 L794.0,1009.4 L794.4,1005.6 L794.8,1001.8 L795.2,998.0 L795.5,994.2 L795.9,990.4 L796.3,986.6 L796.6,982.8 L797.0,979.0 L797.4,975.2 L797.7,971.4 L798.1,967.6 L798.4,963.8 L798.8,960.0 L799.1,956.2 L799.5,952.4 L799.8,948.5 L800.2,944.7 L800.5,940.9 L800.8,937.1 L801.2,933.3 L801.5,929.5 L801.9,925.7 L802.2,921.8 L802.5,918.0 L802.8,914.2 L803.2,910.4 L803.5,906.6 L803.8,902.8 L804.1,898.9 L804.5,895.1 L804.8,891.3 L805.1,887.5 L805.4,883.7 L805.8,879.8 L806.1,876.0 L806.4,872.2 L806.7,868.4 L807.0,864.6 L807.4,860.8 L807.7,856.9 L808.0,853.1 L808.3,849.3 L808.6,845.5 L808.9,841.7 L809.3,837.8 L809.6,834.0 L809.9,830.2 L810.2,826.4 L810.5,822.6 L810.9,818.8 L811.2,814.9 L811.5,811.1 L811.8,807.3 L812.1,803.5 L812.5,799.7 L812.8,795.8 L813.1,792.0 L813.4,788.2 L813.8,784.4 L814.1,780.6 L814.4,776.8 L814.7,773.0 L815.1,769.1 L815.4,765.3 L815.7,761.5 L816.1,757.7 L816.4,753.9 L816.7,750.1 L817.1,746.3 L817.4,742.4 L817.8,738.6 L818.1,734.8 L818.4,731.0 L818.8,727.2 L819.1,723.4 L819.5,719.6 L819.8,715.8 L820.2,712.0 L820.5,708.1 L820.9,704.3 L821.3,700.5 L821.6,696.7 L822.0,692.9 L822.4,689.1 L822.7,685.3 L823.1,681.5 L823.5,677.7 L823.8,673.9 L824.2,670.1 L824.6,666.3 L825.0,662.5 L825.4,658.7 L825.8,654.9 L826.1,651.1 L826.5,647.3 L826.9,643.5 L827.3,639.7 L827.7,635.9 L828.2,632.1 L828.6,628.3 L829.0,624.5 L829.4,620.7 L829.8,616.9 L830.2,613.1 L830.7,609.3 L831.1,605.5 L831.5,601.7 L832.0,597.9 L832.4,594.1 L832.8,590.3 L833.3,586.5 L833.8,582.8 L834.2,579.0 L834.7,575.2 L835.1,571.4 L835.6,567.6 L836.1,563.8 L836.6,560.0 L837.0,556.3 L837.5,552.5 L838.0,548.7 L838.5,544.9 L839.0,541.1 L839.5,537.3 L840.0,533.6 L840.5,529.8 L841.0,526.0 L841.6,522.2 L842.1,518.5 L842.6,514.7 L843.2,510.9 L843.7,507.1 L844.3,503.4 L844.9,499.6 L845.4,495.8 L846.0,492.1 L846.6,488.3 L847.2,484.5 L847.8,480.8 L848.4,477.0 L849.0,473.3 L849.7,469.5 L850.3,465.8 L851.0,462.0 L851.7,458.2 L852.4,454.5 L853.1,450.7 L853.8,447.0 L854.5,443.3 L855.2,439.5 L856.0,435.8 L856.7,432.0 L857.5,428.3 L858.3,424.6 L859.1,420.8 L859.9,417.1 L860.8,413.4 L861.6,409.6 L862.5,405.9 L863.4,402.2 L864.3,398.5 L865.2,394.7 L866.1,391.0 L867.1,387.3 L868.0,383.6 L869.0,379.9 L870.0,376.2 L871.1,372.5 L872.1,368.8 L873.2,365.1 L874.3,361.4 L875.4,357.7 L876.5,354.0 L877.7,350.3 L878.9,346.7 L880.1,343.0 L881.3,339.3 L882.6,335.7 L883.8,332.0 L885.2,328.4 L886.5,324.8 L887.9,321.2 L889.4,317.7 L890.9,314.1 L892.4,310.6 L894.0,307.1 L895.6,303.6 L897.2,300.2 L899.0,296.8 L900.7,293.5 L902.6,290.1 L904.5,286.8 L906.4,283.6 L908.4,280.4 L910.5,277.2 L912.6,274.1 L914.9,271.1 L917.1,268.1 L919.5,265.1 L921.9,262.2 L924.4,259.4 L927.0,256.6 L929.7,253.9 L932.4,251.2 L935.2,248.6 L938.1,246.1 L941.0,243.6 L944.0,241.2 L947.1,238.8 L950.2,236.6 L953.4,234.4 L956.6,232.3 L959.9,230.2 L963.2,228.2 L966.6,226.3 L970.0,224.5 L973.4,222.7 L976.9,221.0 L980.4,219.4 L984.0,217.9 L987.5,216.5 L991.1,215.1 L994.7,213.9 L998.4,212.7 L1002.0,211.6 L1005.7,210.6 L1009.4,209.6 L1013.0,208.8 L1016.7,208.1 L1020.4,207.4 L1024.2,206.8 L1027.9,206.3 L1031.6,205.9 L1035.3,205.5 L1039.1,205.3 L1042.8,205.1 L1046.5,204.9 L1050.3,204.9 L1054.0,204.9 L1057.8,205.0 L1061.6,205.1 L1065.3,205.3 L1069.1,205.5 L1072.9,205.9 L1076.6,206.2 L1080.4,206.6 L1084.2,207.1 L1088.0,207.6 L1091.8,208.2 L1095.5,208.8 L1099.3,209.4 L1103.1,210.1 L1106.9,210.8 L1110.6,211.6 L1114.4,212.3 L1118.2,213.2 L1122.0,214.0 L1125.7,214.9 L1129.5,215.8 L1133.3,216.7 L1137.0,217.7 L1140.8,218.6 L1144.5,219.6 L1148.3,220.6 L1152.0,221.6 L1155.7,222.7 L1159.5,223.7 L1163.2,224.7 L1166.9,225.8 L1170.6,226.9 L1174.3,227.9 L1178.0,229.0 L1181.7,230.1 L1185.4,231.2 L1189.1,232.3 L1192.8,233.5 L1196.5,234.6 L1200.2,235.7 L1203.8,236.9 L1207.5,238.0 L1211.2,239.2 L1214.8,240.3 L1218.5,241.5 L1222.1,242.7 L1225.8,243.9 L1229.5,245.1 L1233.1,246.2 L1236.8,247.4 L1240.4,248.6 L1244.0,249.8 L1247.7,251.0 L1251.3,252.3 L1255.0,253.5 L1258.6,254.7 L1262.2,255.9 L1265.8,257.1 L1269.5,258.3 L1273.1,259.5 L1276.7,260.7 L1280.4,262.0 L1284.0,263.2 L1287.6,264.4 L1291.2,265.6 L1294.9,266.8 L1298.5,268.0 L1302.1,269.2 L1305.7,270.4 L1309.4,271.6 L1313.0,272.8 L1316.6,274.0 L1320.2,275.2 L1323.9,276.4 L1327.5,277.6 L1331.1,278.8 L1334.7,279.9 L1338.4,281.1 L1342.0,282.3 L1345.6,283.4 L1349.3,284.6 L1352.9,285.7 L1356.5,286.8 L1360.2,288.0 L1363.8,289.1 L1367.5,290.2 L1371.1,291.3 L1374.7,292.4 L1378.4,293.5 L1382.0,294.5 L1385.7,295.6 L1389.4,296.6 L1393.0,297.7 L1396.7,298.7 L1400.4,299.7 L1404.0,300.7 L1407.7,301.7 L1411.4,302.7 L1415.1,303.7 L1418.7,304.7 L1422.4,305.6 L1426.1,306.6 L1429.8,307.5 L1433.5,308.4 L1437.2,309.3 L1440.9,310.2 L1444.6,311.1 L1448.3,312.0 L1452.0,312.9 L1455.7,313.8 L1459.4,314.6 L1463.1,315.5 L1466.8,316.3 L1470.6,317.2 L1474.3,318.0 L1478.0,318.8 L1481.7,319.6 L1485.5,320.4 L1489.2,321.2 L1492.9,322.0 L1496.7,322.7 L1500.4,323.5 L1504.1,324.3 L1507.9,325.0 L1511.6,325.7 L1515.4,326.5 L1519.1,327.2 L1522.9,327.9 L1526.6,328.6 L1530.4,329.3 L1534.1,330.0 L1537.9,330.7 L1541.6,331.3 L1545.4,332.0 L1549.1,332.7 L1552.9,333.3 L1556.7,334.0 L1560.4,334.6 L1564.2,335.2 L1568.0,335.8 L1571.8,336.5 L1575.5,337.1 L1579.3,337.7 L1583.1,338.3 L1586.9,338.8 L1590.6,339.4 L1594.4,340.0 L1598.2,340.6 L1602.0,341.1 L1605.8,341.7 L1609.6,342.2 L1613.4,342.7 L1617.1,343.3 L1620.9,343.8 L1624.7,344.3 L1628.5,344.8 L1632.3,345.3 L1636.1,345.8 L1639.9,346.3 L1643.7,346.8 L1647.5,347.3 L1651.3,347.8 L1655.1,348.3 L1658.9,348.7 L1662.7,349.2 L1666.5,349.7 L1670.3,350.1 L1674.1,350.6 L1678.0,351.0 L1681.8,351.4 L1685.6,351.9 L1689.4,352.3 L1693.2,352.7 L1697.0,353.1 L1700.8,353.5 L1704.6,353.9 L1708.4,354.3 L1712.3,354.7 L1716.1,355.1 L1719.9,355.5 L1723.7,355.9 L1727.5,356.3 L1731.3,356.6 L1735.2,357.0 L1739.0,357.4 L1742.8,357.7 L1746.6,358.1 L1750.4,358.5 L1754.3,358.8 L1758.1,359.1 L1761.9,359.5 L1765.7,359.8 L1769.6,360.2 L1773.4,360.5 L1777.2,360.8 L1781.0,361.2 L1784.8,361.5 L1788.7,361.8 L1792.5,362.1 L1796.3,362.4 L1800.1,362.7 L1804.0,363.0 L1807.8,363.3 L1811.6,363.6 L1815.4,363.9 L1819.3,364.2 L1823.1,364.5 L1826.9,364.8 L1830.7,365.1 L1834.5,365.4 L1838.4,365.7 L1842.2,366.0 L1846.0,366.2 L1849.8,366.5 L1853.7,366.8 L1857.5,367.1 L1861.3,367.3 L1865.1,367.6 L1868.9,367.9 L1872.8,368.1 L1876.6,368.4 L1880.4,368.7 L1884.2,368.9 L1888.0,369.2 L1891.8,369.4 L1895.7,369.7 L1899.5,370.0 L1903.3,370.2 L1907.1,370.5 L1910.9,370.7 L1914.7,371.0 L1918.5,371.2 L1922.3,371.5 L1926.2,371.7 L1930.0,372.0 L1933.8,372.2 L1937.6,372.5 L1941.4,372.7 L1945.2,373.0 L1949.0,373.2 L1952.8,373.5 L1956.6,373.7 L1960.4,374.0 L1964.2,374.2 L1968.0,374.5 L1971.8,374.7 L1975.6,375.0 L1979.4,375.2 L1983.2,375.4 L1987.0,375.7 L1990.8,375.9 L1994.6,376.2 L1998.3,376.4 L2002.1,376.7 L2005.9,376.9 L2009.7,377.2" fill="none" stroke="#4a484a" stroke-width="5.5" stroke-linejoin="round"/>
<path d="M292.0,1318.5 L295.1,1316.3 L298.2,1314.2 L301.3,1312.1 L304.5,1310.0 L307.6,1307.9 L310.7,1305.8 L313.9,1303.7 L317.0,1301.7 L320.2,1299.6 L323.4,1297.6 L326.5,1295.6 L329.7,1293.6 L332.9,1291.6 L336.1,1289.6 L339.3,1287.6 L342.5,1285.6 L345.7,1283.7 L348.9,1281.8 L352.1,1279.8 L355.3,1277.9 L358.5,1276.0 L361.8,1274.1 L365.0,1272.2 L368.2,1270.4 L371.5,1268.5 L374.7,1266.6 L378.0,1264.8 L381.2,1262.9 L384.5,1261.1 L387.8,1259.3 L391.0,1257.5 L394.3,1255.7 L397.6,1253.9 L400.9,1252.1 L404.2,1250.3 L407.5,1248.5 L410.7,1246.8 L414.0,1245.0 L417.3,1243.2 L420.6,1241.5 L424.0,1239.8 L427.3,1238.0 L430.6,1236.3 L433.9,1234.6 L437.2,1232.8 L440.5,1231.1 L443.9,1229.4 L447.2,1227.7 L450.5,1226.0 L453.9,1224.3 L457.2,1222.6 L460.5,1220.9 L463.9,1219.2 L467.2,1217.6 L470.6,1215.9 L473.9,1214.2 L477.3,1212.5 L480.6,1210.9 L484.0,1209.2 L487.3,1207.5 L490.7,1205.9 L494.0,1204.2 L497.4,1202.5 L500.7,1200.9 L504.1,1199.2 L507.5,1197.5 L510.8,1195.9 L514.2,1194.2 L517.5,1192.6 L520.9,1190.9 L524.3,1189.2 L527.6,1187.6 L531.0,1185.9 L534.4,1184.3 L537.7,1182.6 L541.1,1180.9 L544.5,1179.3 L547.8,1177.6 L551.2,1175.9 L554.6,1174.3 L558.0,1172.6 L561.3,1170.9 L564.7,1169.2 L568.1,1167.5 L571.4,1165.8 L574.8,1164.2 L578.1,1162.5 L581.5,1160.8 L584.9,1159.1 L588.2,1157.4 L591.6,1155.7 L595.0,1154.0 L598.3,1152.3 L601.7,1150.6 L605.1,1148.9 L608.5,1147.3 L611.9,1145.7 L615.3,1144.0 L618.7,1142.5 L622.1,1140.9 L625.5,1139.3 L628.9,1137.8 L632.4,1136.4 L635.8,1134.9 L639.3,1133.5 L642.8,1132.1 L646.2,1130.8 L649.7,1129.5 L653.3,1128.2 L656.8,1127.0 L660.3,1125.9 L663.9,1124.8 L667.5,1123.7 L671.1,1122.8 L674.7,1121.9 L678.3,1121.1 L682.0,1120.4 L685.6,1119.8 L689.3,1119.4 L692.9,1119.2 L696.6,1119.1 L700.3,1119.3 L704.0,1119.6 L707.6,1120.2 L711.3,1121.1 L715.0,1122.2 L718.6,1123.5 L722.3,1124.8 L726.0,1125.9 L729.7,1126.6 L733.5,1126.9 L737.2,1126.7 L740.8,1126.0 L744.2,1124.9 L747.4,1123.4 L750.2,1121.5 L752.7,1119.3 L754.9,1116.9 L756.8,1114.2 L758.5,1111.2 L759.9,1108.0 L761.2,1104.7 L762.3,1101.2 L763.2,1097.6 L764.1,1093.9 L764.9,1090.2 L765.6,1086.4 L766.4,1082.6 L767.1,1078.9 L767.8,1075.1 L768.5,1071.3 L769.2,1067.5 L769.8,1063.7 L770.5,1060.0 L771.1,1056.2 L771.8,1052.4 L772.4,1048.7 L773.0,1044.9 L773.6,1041.1 L774.2,1037.3 L774.8,1033.6 L775.4,1029.8 L776.0,1026.1 L776.5,1022.3 L777.1,1018.5 L777.6,1014.8 L778.1,1011.0 L778.6,1007.2 L779.1,1003.5 L779.6,999.7 L780.1,996.0 L780.6,992.2 L781.1,988.5 L781.5,984.7 L782.0,981.0 L782.4,977.2 L782.9,973.5 L783.3,969.7 L783.7,966.0 L784.1,962.2 L784.5,958.5 L784.9,954.7 L785.3,951.0 L785.7,947.2 L786.1,943.5 L786.5,939.8 L786.8,936.0 L787.2,932.3 L787.5,928.5 L787.9,924.8 L788.2,921.1 L788.5,917.3 L788.8,913.6 L789.2,909.9 L789.5,906.1 L789.8,902.4 L790.1,898.6 L790.4,894.9 L790.7,891.2 L790.9,887.4 L791.2,883.7 L791.5,880.0 L791.7,876.3 L792.0,872.5 L792.3,868.8 L792.5,865.1 L792.8,861.3 L793.0,857.6 L793.2,853.9 L793.5,850.1 L793.7,846.4 L793.9,842.7 L794.2,839.0 L794.4,835.2 L794.6,831.5 L794.8,827.8 L795.0,824.0 L795.2,820.3 L795.4,816.6 L795.6,812.9 L795.8,809.1 L796.0,805.4 L796.2,801.7 L796.4,798.0 L796.6,794.2 L796.7,790.5 L796.9,786.8 L797.1,783.1 L797.3,779.3 L797.5,775.6 L797.6,771.9 L797.8,768.2 L798.0,764.4 L798.1,760.7 L798.3,757.0 L798.5,753.3 L798.6,749.5 L798.8,745.8 L799.0,742.1 L799.1,738.3 L799.3,734.6 L799.5,730.9 L799.6,727.2 L799.8,723.4 L800.0,719.7 L800.1,716.0 L800.3,712.3 L800.5,708.5 L800.6,704.8 L800.8,701.1 L801.0,697.3 L801.1,693.6 L801.3,689.9 L801.5,686.1 L801.7,682.4 L801.8,678.7 L802.0,674.9 L802.2,671.2 L802.4,667.5 L802.5,663.7 L802.7,660.0 L802.9,656.3 L803.1,652.5 L803.3,648.8 L803.5,645.1 L803.7,641.3 L803.9,637.6 L804.1,633.9 L804.3,630.1 L804.5,626.4 L804.7,622.6 L804.9,618.9 L805.2,615.1 L805.4,611.4 L805.6,607.7 L805.8,603.9 L806.1,600.2 L806.3,596.4 L806.6,592.7 L806.8,588.9 L807.1,585.2 L807.3,581.4 L807.6,577.7 L807.8,573.9 L808.1,570.2 L808.3,566.4 L808.6,562.7 L808.9,558.9 L809.2,555.2 L809.4,551.4 L809.7,547.7 L810.0,543.9 L810.3,540.2 L810.6,536.4 L810.8,532.7 L811.1,528.9 L811.4,525.1 L811.7,521.4 L812.0,517.6 L812.3,513.9 L812.6,510.1 L812.9,506.4 L813.2,502.6 L813.5,498.9 L813.8,495.1 L814.0,491.4 L814.3,487.6 L814.6,483.9 L814.9,480.1 L815.2,476.4 L815.5,472.6 L815.8,468.9 L816.1,465.1 L816.4,461.3 L816.7,457.6 L817.0,453.9 L817.3,450.1 L817.6,446.4 L817.8,442.6 L818.1,438.9 L818.4,435.1 L818.7,431.4 L819.0,427.6 L819.3,423.9 L819.5,420.1 L819.8,416.4 L820.1,412.7 L820.3,408.9 L820.6,405.2 L820.9,401.4 L821.1,397.7 L821.4,394.0 L821.6,390.2 L821.9,386.5 L822.1,382.8 L822.4,379.0 L822.6,375.3 L822.9,371.6 L823.1,367.9 L823.4,364.1 L823.6,360.4 L823.9,356.7 L824.1,353.0 L824.4,349.2 L824.7,345.5 L825.0,341.8 L825.3,338.1 L825.6,334.4 L826.0,330.7 L826.3,327.0 L826.7,323.2 L827.1,319.5 L827.6,315.8 L828.0,312.1 L828.5,308.4 L829.1,304.7 L829.6,301.0 L830.2,297.3 L830.8,293.7 L831.5,290.0 L832.2,286.3 L832.9,282.6 L833.6,278.9 L834.4,275.2 L835.1,271.5 L835.9,267.8 L836.6,264.0 L837.3,260.3 L838.1,256.6 L838.9,252.8 L839.7,249.1 L840.6,245.4 L841.5,241.8 L842.6,238.2 L843.8,234.6 L845.1,231.1 L846.5,227.7 L848.2,224.3 L850.0,221.0 L852.0,217.8 L854.2,214.6 L856.5,211.7 L859.1,208.9 L861.9,206.3 L864.8,204.1 L867.9,202.1 L871.1,200.5 L874.5,199.4 L878.0,198.6 L881.6,198.4 L885.3,198.5 L889.1,198.9 L892.8,199.7 L896.6,200.7 L900.3,201.8 L903.9,203.1 L907.4,204.6 L910.9,206.1 L914.3,207.7 L917.6,209.4 L920.9,211.1 L924.2,212.9 L927.5,214.7 L930.7,216.6 L933.9,218.4 L937.2,220.3 L940.4,222.1 L943.6,224.0 L946.9,225.8 L950.2,227.6 L953.4,229.4 L956.7,231.2 L960.0,233.0 L963.3,234.8 L966.6,236.6 L969.9,238.4 L973.2,240.1 L976.5,241.9 L979.8,243.6 L983.1,245.4 L986.5,247.1 L989.8,248.8 L993.1,250.5 L996.5,252.2 L999.8,253.9 L1003.2,255.6 L1006.6,257.3 L1009.9,258.9 L1013.3,260.6 L1016.7,262.2 L1020.1,263.9 L1023.5,265.5 L1026.9,267.1 L1030.3,268.7 L1033.7,270.3 L1037.1,271.8 L1040.5,273.4 L1044.0,275.0 L1047.4,276.5 L1050.8,278.0 L1054.3,279.5 L1057.7,281.0 L1061.2,282.5 L1064.6,284.0 L1068.1,285.5 L1071.6,286.9 L1075.0,288.4 L1078.5,289.8 L1082.0,291.2 L1085.5,292.6 L1089.0,294.0 L1092.5,295.4 L1096.0,296.7 L1099.5,298.1 L1103.0,299.4 L1106.5,300.8 L1110.0,302.1 L1113.6,303.3 L1117.1,304.6 L1120.6,305.9 L1124.2,307.1 L1127.7,308.4 L1131.2,309.6 L1134.8,310.8 L1138.4,312.0 L1141.9,313.2 L1145.5,314.3 L1149.0,315.5 L1152.6,316.6 L1156.2,317.7 L1159.8,318.8 L1163.4,319.9 L1166.9,320.9 L1170.5,322.0 L1174.1,323.0 L1177.7,324.0 L1181.3,325.0 L1184.9,326.0 L1188.6,327.0 L1192.2,327.9 L1195.8,328.9 L1199.4,329.8 L1203.0,330.7 L1206.7,331.6 L1210.3,332.5 L1213.9,333.4 L1217.6,334.2 L1221.2,335.1 L1224.8,335.9 L1228.5,336.7 L1232.1,337.5 L1235.8,338.3 L1239.4,339.1 L1243.1,339.9 L1246.8,340.6 L1250.4,341.3 L1254.1,342.1 L1257.8,342.8 L1261.4,343.5 L1265.1,344.2 L1268.8,344.8 L1272.5,345.5 L1276.2,346.1 L1279.8,346.8 L1283.5,347.4 L1287.2,348.0 L1290.9,348.6 L1294.6,349.2 L1298.3,349.8 L1302.0,350.3 L1305.7,350.9 L1309.4,351.4 L1313.1,352.0 L1316.8,352.5 L1320.5,353.0 L1324.3,353.5 L1328.0,354.0 L1331.7,354.5 L1335.4,354.9 L1339.1,355.4 L1342.8,355.8 L1346.6,356.3 L1350.3,356.7 L1354.0,357.1 L1357.8,357.5 L1361.5,357.9 L1365.2,358.3 L1368.9,358.6 L1372.7,359.0 L1376.4,359.4 L1380.2,359.7 L1383.9,360.1 L1387.6,360.4 L1391.4,360.7 L1395.1,361.0 L1398.9,361.3 L1402.6,361.6 L1406.3,361.9 L1410.1,362.2 L1413.8,362.4 L1417.6,362.7 L1421.3,362.9 L1425.1,363.2 L1428.8,363.4 L1432.6,363.6 L1436.3,363.9 L1440.1,364.1 L1443.8,364.3 L1447.6,364.5 L1451.4,364.7 L1455.1,364.8 L1458.9,365.0 L1462.6,365.2 L1466.4,365.3 L1470.1,365.5 L1473.9,365.6 L1477.6,365.8 L1481.4,365.9 L1485.2,366.0 L1488.9,366.2 L1492.7,366.3 L1496.4,366.4 L1500.2,366.5 L1503.9,366.6 L1507.7,366.7 L1511.5,366.8 L1515.2,366.9 L1519.0,366.9 L1522.7,367.0 L1526.5,367.1 L1530.2,367.1 L1534.0,367.2 L1537.8,367.2 L1541.5,367.3 L1545.3,367.3 L1549.0,367.3 L1552.8,367.4 L1556.5,367.4 L1560.3,367.4 L1564.0,367.4 L1567.8,367.5 L1571.5,367.5 L1575.3,367.5 L1579.0,367.5 L1582.8,367.5 L1586.5,367.4 L1590.3,367.4 L1594.0,367.4 L1597.8,367.4 L1601.5,367.4 L1605.3,367.3 L1609.0,367.3 L1612.8,367.3 L1616.5,367.2 L1620.2,367.2 L1624.0,367.1 L1627.7,367.1 L1631.5,367.0 L1635.2,367.0 L1639.0,366.9 L1642.7,366.8 L1646.5,366.8 L1650.2,366.7 L1654.0,366.6 L1657.7,366.5 L1661.4,366.4 L1665.2,366.3 L1668.9,366.3 L1672.7,366.2 L1676.4,366.1 L1680.2,366.0 L1683.9,365.9 L1687.6,365.8 L1691.4,365.7 L1695.1,365.5 L1698.9,365.4 L1702.6,365.3 L1706.4,365.2 L1710.1,365.1 L1713.8,365.0 L1717.6,364.8 L1721.3,364.7 L1725.1,364.6 L1728.8,364.4 L1732.5,364.3 L1736.3,364.2 L1740.0,364.0 L1743.8,363.9 L1747.5,363.8 L1751.3,363.6 L1755.0,363.5 L1758.7,363.3 L1762.5,363.2 L1766.2,363.0 L1770.0,362.9 L1773.7,362.7 L1777.4,362.6 L1781.2,362.4 L1784.9,362.3 L1788.7,362.1 L1792.4,361.9 L1796.1,361.8 L1799.9,361.6 L1803.6,361.4 L1807.4,361.3 L1811.1,361.1 L1814.9,360.9 L1818.6,360.8 L1822.3,360.6 L1826.1,360.4 L1829.8,360.3 L1833.6,360.1 L1837.3,359.9 L1841.0,359.8 L1844.8,359.6 L1848.5,359.4 L1852.3,359.2 L1856.0,359.1 L1859.8,358.9 L1863.5,358.7 L1867.2,358.5 L1871.0,358.4 L1874.7,358.2 L1878.5,358.0 L1882.2,357.8 L1886.0,357.7 L1889.7,357.5 L1893.5,357.3 L1897.2,357.1 L1900.9,357.0 L1904.7,356.8 L1908.4,356.6 L1912.2,356.4 L1915.9,356.3 L1919.7,356.1 L1923.4,355.9 L1927.2,355.8 L1930.9,355.6 L1934.7,355.4 L1938.4,355.3 L1942.2,355.1 L1945.9,354.9 L1949.7,354.8 L1953.4,354.6 L1957.2,354.4 L1960.9,354.3 L1964.7,354.1 L1968.4,354.0 L1972.2,353.8 L1975.9,353.6 L1979.7,353.5 L1983.4,353.3 L1987.2,353.2 L1990.9,353.0 L1994.7,352.9 L1998.4,352.7 L2002.2,352.6 L2005.9,352.4 L2009.7,352.3" fill="none" stroke="#ee3b36" stroke-width="5.5" stroke-linejoin="round"/>
<rect x="292.0" y="60.0" width="1717.7" height="1382.0" fill="none" stroke="#000" stroke-width="3"/>
<g class="tl"><text x="262.5" y="1445.5" text-anchor="end" textLength="32.7" lengthAdjust="spacingAndGlyphs">0</text><text x="262.5" y="1171.9" text-anchor="end" textLength="65.3" lengthAdjust="spacingAndGlyphs">20</text><text x="262.5" y="898.3" text-anchor="end" textLength="65.3" lengthAdjust="spacingAndGlyphs">40</text><text x="262.5" y="624.6" text-anchor="end" textLength="65.3" lengthAdjust="spacingAndGlyphs">60</text><text x="262.5" y="351.0" text-anchor="end" textLength="65.3" lengthAdjust="spacingAndGlyphs">80</text><text x="262.5" y="77.4" text-anchor="end" textLength="98.0" lengthAdjust="spacingAndGlyphs">100</text><text x="292.0" y="1518" text-anchor="middle" textLength="98.5" lengthAdjust="spacingAndGlyphs">200</text><text x="578.3" y="1518" text-anchor="middle" textLength="98.5" lengthAdjust="spacingAndGlyphs">300</text><text x="864.6" y="1518" text-anchor="middle" textLength="98.5" lengthAdjust="spacingAndGlyphs">400</text><text x="1150.8" y="1518" text-anchor="middle" textLength="98.5" lengthAdjust="spacingAndGlyphs">500</text><text x="1437.1" y="1518" text-anchor="middle" textLength="98.5" lengthAdjust="spacingAndGlyphs">600</text><text x="1723.4" y="1518" text-anchor="middle" textLength="98.5" lengthAdjust="spacingAndGlyphs">700</text><text x="2009.7" y="1518" text-anchor="middle" textLength="98.5" lengthAdjust="spacingAndGlyphs">800</text></g>
<text class="at" x="1151.5" y="1635.4" text-anchor="middle" textLength="583.5" lengthAdjust="spacingAndGlyphs">Wavelength (nm)</text>
<text class="at" transform="translate(84,715.5) rotate(-90)" x="0" y="0" text-anchor="middle" style="font-size:76px" textLength="174" lengthAdjust="spacingAndGlyphs">T (%)</text>
<line x1="308" y1="126.7" x2="467" y2="126.7" stroke="#505050" stroke-width="7" stroke-linecap="round"/>
<line x1="308" y1="217.4" x2="467" y2="217.4" stroke="#ee3b36" stroke-width="7" stroke-linecap="round"/>
<text class="lg" x="488" y="151.7" textLength="195" lengthAdjust="spacingAndGlyphs">Glass</text>
<text class="lg" x="488" y="242.1" textLength="185" lengthAdjust="spacingAndGlyphs">Silica</text>
<defs>
<clipPath id="phc"><rect x="897.5" y="406.0" width="669.0" height="446.5"/></clipPath>
<linearGradient id="bgg" x1="0" y1="0" x2="1" y2="0"><stop offset="0" stop-color="#9f927f"/><stop offset="0.3" stop-color="#b8aa94"/><stop offset="0.6" stop-color="#d4c4ad"/><stop offset="1" stop-color="#d4c6b0"/></linearGradient>
<linearGradient id="bgd" x1="0.2" y1="0.3" x2="0.7" y2="1"><stop offset="0" stop-color="#000" stop-opacity="0"/><stop offset="1" stop-color="#1a1000" stop-opacity="0.14"/></linearGradient>
<linearGradient id="bgv" x1="0" y1="0" x2="0" y2="1"><stop offset="0" stop-color="#fff" stop-opacity="0.2"/><stop offset="0.45" stop-color="#fff" stop-opacity="0"/><stop offset="1" stop-color="#fff" stop-opacity="0"/></linearGradient>
<filter id="noise" x="0" y="0" width="1" height="1"><feTurbulence type="fractalNoise" baseFrequency="0.6" numOctaves="2" seed="3"/><feColorMatrix type="matrix" values="0 0 0 0 0.5  0 0 0 0 0.45  0 0 0 0 0.4  0 0 0 0.9 -0.35"/><feComposite in2="SourceGraphic" operator="in"/></filter>
<filter id="soft" x="-10%" y="-10%" width="120%" height="120%"><feGaussianBlur stdDeviation="1.1"/></filter>
<filter id="soft2" x="-10%" y="-10%" width="120%" height="120%"><feGaussianBlur stdDeviation="0.7"/></filter>
<filter id="shadow" x="-20%" y="-20%" width="140%" height="140%"><feGaussianBlur stdDeviation="5"/></filter>
<radialGradient id="penny" cx="0.62" cy="0.52" r="0.6" fx="0.66" fy="0.56"><stop offset="0" stop-color="#f0a262"/><stop offset="0.3" stop-color="#d67c3c"/><stop offset="0.6" stop-color="#b85e28"/><stop offset="0.85" stop-color="#94441a"/><stop offset="1" stop-color="#6a2c10"/></radialGradient>
<linearGradient id="pennyl" x1="0" y1="0" x2="1" y2="0.3"><stop offset="0" stop-color="#3a1606" stop-opacity="0.45"/><stop offset="0.45" stop-color="#3a1606" stop-opacity="0"/><stop offset="1" stop-color="#3a1606" stop-opacity="0"/></linearGradient>
<path id="rimtxt" d="M1335.4,630.5 A97,97 0 1,1 1528.6,630.5"/>
<clipPath id="glassc"><path d="M945,485 L1238.5,485 L1247,560 L1255,640 L1262,712 L1282,760 L1305.5,803 L1305.5,809 L1219,822 L1100,828 L948,838 L945,838 Z"/></clipPath>
</defs>
<g clip-path="url(#phc)">
<rect x="897.5" y="406.0" width="669.0" height="446.5" fill="url(#bgg)"/>
<rect x="897.5" y="406.0" width="669.0" height="446.5" fill="url(#bgv)"/>
<rect x="897.5" y="406.0" width="669.0" height="446.5" fill="url(#bgd)"/>
<rect x="897.5" y="406.0" width="669.0" height="446.5" fill="#fff" filter="url(#noise)" opacity="0.35"/>
<path d="M945,485 L1238.5,485 L1247,560 L1255,640 L1262,712 L1282,760 L1305.5,803 L1305.5,809 L1219,822 L1100,828 L948,838 L945,838 Z" fill="#a09070" fill-opacity="0.22" stroke="#8a8272" stroke-width="2.2"/>
<path d="M948,491 L1236,491" stroke="#c9ccce" stroke-width="7" fill="none"/>
<path d="M951,492 L951,832" stroke="#c3c3c0" stroke-width="6" fill="none" opacity="0.9"/>
<path d="M952,831 L1100,824 L1219,817 L1302,806" stroke="#c8c8c6" stroke-width="5" fill="none" opacity="0.9"/>
<path d="M955,497.5 L1233,497.5" stroke="#8d8d88" stroke-width="1.5" fill="none"/>
<path d="M955,497 L955,828" stroke="#9a9a94" stroke-width="1.5" fill="none"/>
<g filter="url(#soft)"><path d="M1149,485 C1158,474 1170,468 1180,470 C1181,476 1179,484 1174,490 C1190,488 1205,489 1213,494 C1208,505 1196,512 1186,516 C1197,517 1203,521 1200,528 C1195,537 1180,541 1160,542 C1150,540 1146,530 1147,520 Z" fill="#cdc8c0" stroke="#55524c" stroke-width="3"/><path d="M1022,437 C1040,439 1058,447 1070,456 C1076,461 1081,465 1085,468" stroke="#1e1a16" stroke-width="6" fill="none" stroke-linecap="round"/><path d="M1058,423 C1072,428 1085,436 1094,445 C1103,454 1111,461 1120,468" stroke="#1e1a16" stroke-width="6" fill="none" stroke-linecap="round"/><path d="M1050,494 C1052,480 1064,468 1086,465 C1110,462 1136,465 1145,478 C1149,492 1148,512 1142,528 C1128,539 1104,545 1086,546 C1068,550 1050,554 1040,549 C1031,541 1030,522 1035,508 C1039,500 1044,497 1050,494 Z" fill="#cc8e3e" stroke="#3e372e" stroke-width="2.2"/><path d="M1052,488 C1055,474 1068,465 1090,463 C1108,462 1122,464 1128,471 C1130,482 1128,494 1124,500 C1108,501 1090,500 1076,499 C1064,498 1055,495 1052,488 Z" fill="#1f1915"/><path d="M1064,482 C1068,478 1074,477 1078,479 L1078,499 C1072,499 1066,498 1062,496 Z" fill="#d2922e"/><path d="M1126,472 C1136,472 1144,478 1146,486 L1146,500 L1126,500 Z" fill="#d59430"/><ellipse cx="1107" cy="474.8" rx="5" ry="3.4" fill="#d0d6dc" transform="rotate(-20 1107 474.8)"/><ellipse cx="1094" cy="507.2" rx="17.5" ry="7.6" fill="#4c4740"/><path d="M1092,526 C1104,522 1118,518 1134,514" stroke="#6a5434" stroke-width="1.5" fill="none" opacity="0.7"/><path d="M1048,552 C1062,546 1090,543 1112,545 C1125,548 1134,556 1134,572 C1134,588 1128,600 1112,603 C1090,606 1066,603 1054,596 C1046,586 1044,566 1048,552 Z" fill="#413c34"/><path d="M1048,556 C1040,558 1032,566 1030,576 C1029,584 1036,590 1046,589 L1052,586 C1050,576 1050,566 1048,556 Z" fill="#c98f3e" stroke="#3e372e" stroke-width="1.8"/><ellipse cx="1039" cy="582" rx="8" ry="6.5" fill="#d8d8d4" stroke="#4a4640" stroke-width="1.5"/><path d="M1128,541 C1142,541 1158,552 1168,564 C1172,572 1168,580 1160,582 C1150,580 1142,572 1134,566 C1130,558 1127,548 1128,541 Z" fill="#cf9440" stroke="#3e372e" stroke-width="1.8"/><ellipse cx="1142" cy="578" rx="10" ry="7" fill="#d6d6d2" stroke="#4a4640" stroke-width="1.5"/><path d="M1056,598 C1070,608 1094,612 1118,604 C1136,600 1148,612 1155,628 C1162,642 1162,654 1158,660 C1140,664 1110,660 1090,652 C1074,644 1062,628 1056,612 Z" fill="#3f3a32"/><path d="M1054,597 C1070,606 1096,612 1120,603 L1124,612 C1100,620 1072,618 1058,610 Z" fill="#cf9440"/><path d="M1122,602 C1136,608 1146,620 1148,634 C1142,630 1134,628 1130,632 C1130,622 1126,612 1122,602 Z" fill="#cf9440"/><path d="M1080,640 C1092,646 1108,650 1126,650 L1124,656 C1106,656 1090,652 1080,646 Z" fill="#b98a44"/><path d="M1152,634 C1158,642 1164,652 1166,662 C1160,658 1154,650 1150,642 Z" fill="#cf9440"/><path d="M1084,650 L1080,664 L1090,676" stroke="#47433c" stroke-width="6" fill="none" stroke-linecap="round"/><path d="M1122,652 L1124,666 L1118,678" stroke="#47433c" stroke-width="6" fill="none" stroke-linecap="round"/></g>
<path d="M945,486 L1238.5,486" stroke="#5a5650" stroke-width="2" opacity="0.7"/>
<path d="M948,491 L1236,491" stroke="#cfd4d8" stroke-width="6" opacity="0.45"/>
<g filter="url(#soft2)">
<text transform="translate(933.2,743.8) scale(0.605,1)" text-anchor="middle" style="font-family:'DejaVu Serif','Liberation Serif',serif;font-weight:bold;font-stretch:condensed;font-size:91px;fill:#dc9a1c;stroke:#17120c;stroke-width:12.0;paint-order:stroke;stroke-linejoin:miter;">G</text><text transform="translate(933.2,743.8) scale(0.605,1)" text-anchor="middle" style="font-family:'DejaVu Serif','Liberation Serif',serif;font-weight:bold;font-stretch:condensed;font-size:91px;fill:#dc9a1c;stroke:#dc9a1c;stroke-width:2.5;">G</text><text transform="translate(993.6,743.8) scale(0.820,1)" text-anchor="middle" style="font-family:'DejaVu Serif','Liberation Serif',serif;font-weight:bold;font-stretch:condensed;font-size:91px;fill:#dc9a1c;stroke:#17120c;stroke-width:12.0;paint-order:stroke;stroke-linejoin:miter;">E</text><text transform="translate(993.6,743.8) scale(0.820,1)" text-anchor="middle" style="font-family:'DejaVu Serif','Liberation Serif',serif;font-weight:bold;font-stretch:condensed;font-size:91px;fill:#dc9a1c;stroke:#dc9a1c;stroke-width:2.5;">E</text><text transform="translate(1052.1,743.8) scale(0.630,1)" text-anchor="middle" style="font-family:'DejaVu Serif','Liberation Serif',serif;font-weight:bold;font-stretch:condensed;font-size:91px;fill:#dc9a1c;stroke:#17120c;stroke-width:12.0;paint-order:stroke;stroke-linejoin:miter;">O</text><text transform="translate(1052.1,743.8) scale(0.630,1)" text-anchor="middle" style="font-family:'DejaVu Serif','Liberation Serif',serif;font-weight:bold;font-stretch:condensed;font-size:91px;fill:#dc9a1c;stroke:#dc9a1c;stroke-width:2.5;">O</text><text transform="translate(1110.4,743.8) scale(0.694,1)" text-anchor="middle" style="font-family:'DejaVu Serif','Liberation Serif',serif;font-weight:bold;font-stretch:condensed;font-size:91px;fill:#dc9a1c;stroke:#17120c;stroke-width:12.0;paint-order:stroke;stroke-linejoin:miter;">R</text><text transform="translate(1110.4,743.8) scale(0.694,1)" text-anchor="middle" style="font-family:'DejaVu Serif','Liberation Serif',serif;font-weight:bold;font-stretch:condensed;font-size:91px;fill:#dc9a1c;stroke:#dc9a1c;stroke-width:2.5;">R</text><text transform="translate(1171.8,743.8) scale(0.707,1)" text-anchor="middle" style="font-family:'DejaVu Serif','Liberation Serif',serif;font-weight:bold;font-stretch:condensed;font-size:91px;fill:#dc9a1c;stroke:#17120c;stroke-width:12.0;paint-order:stroke;stroke-linejoin:miter;">G</text><text transform="translate(1171.8,743.8) scale(0.707,1)" text-anchor="middle" style="font-family:'DejaVu Serif','Liberation Serif',serif;font-weight:bold;font-stretch:condensed;font-size:91px;fill:#dc9a1c;stroke:#dc9a1c;stroke-width:2.5;">G</text><text transform="translate(1220.1,743.8) scale(0.607,1)" text-anchor="middle" style="font-family:'DejaVu Serif','Liberation Serif',serif;font-weight:bold;font-stretch:condensed;font-size:91px;fill:#dc9a1c;stroke:#17120c;stroke-width:12.0;paint-order:stroke;stroke-linejoin:miter;">I</text><text transform="translate(1220.1,743.8) scale(0.607,1)" text-anchor="middle" style="font-family:'DejaVu Serif','Liberation Serif',serif;font-weight:bold;font-stretch:condensed;font-size:91px;fill:#dc9a1c;stroke:#dc9a1c;stroke-width:2.5;">I</text><text transform="translate(1269.5,743.8) scale(0.745,1)" text-anchor="middle" style="font-family:'DejaVu Serif','Liberation Serif',serif;font-weight:bold;font-stretch:condensed;font-size:91px;fill:#dc9a1c;stroke:#17120c;stroke-width:12.0;paint-order:stroke;stroke-linejoin:miter;">A</text><text transform="translate(1269.5,743.8) scale(0.745,1)" text-anchor="middle" style="font-family:'DejaVu Serif','Liberation Serif',serif;font-weight:bold;font-stretch:condensed;font-size:91px;fill:#dc9a1c;stroke:#dc9a1c;stroke-width:2.5;">A</text><text transform="translate(1008.7,818.3) scale(0.800,1)" text-anchor="middle" style="font-family:'DejaVu Serif','Liberation Serif',serif;font-weight:bold;font-stretch:condensed;font-size:91px;fill:#dc9a1c;stroke:#17120c;stroke-width:12.0;paint-order:stroke;stroke-linejoin:miter;">T</text><text transform="translate(1008.7,818.3) scale(0.800,1)" text-anchor="middle" style="font-family:'DejaVu Serif','Liberation Serif',serif;font-weight:bold;font-stretch:condensed;font-size:91px;fill:#dc9a1c;stroke:#dc9a1c;stroke-width:2.5;">T</text><text transform="translate(1075.2,818.3) scale(0.859,1)" text-anchor="middle" style="font-family:'DejaVu Serif','Liberation Serif',serif;font-weight:bold;font-stretch:condensed;font-size:91px;fill:#dc9a1c;stroke:#17120c;stroke-width:12.0;paint-order:stroke;stroke-linejoin:miter;">E</text><text transform="translate(1075.2,818.3) scale(0.859,1)" text-anchor="middle" style="font-family:'DejaVu Serif','Liberation Serif',serif;font-weight:bold;font-stretch:condensed;font-size:91px;fill:#dc9a1c;stroke:#dc9a1c;stroke-width:2.5;">E</text><text transform="translate(1135.6,818.3) scale(0.744,1)" text-anchor="middle" style="font-family:'DejaVu Serif','Liberation Serif',serif;font-weight:bold;font-stretch:condensed;font-size:91px;fill:#dc9a1c;stroke:#17120c;stroke-width:12.0;paint-order:stroke;stroke-linejoin:miter;">C</text><text transform="translate(1135.6,818.3) scale(0.744,1)" text-anchor="middle" style="font-family:'DejaVu Serif','Liberation Serif',serif;font-weight:bold;font-stretch:condensed;font-size:91px;fill:#dc9a1c;stroke:#dc9a1c;stroke-width:2.5;">C</text><text transform="translate(1200.0,818.3) scale(0.788,1)" text-anchor="middle" style="font-family:'DejaVu Serif','Liberation Serif',serif;font-weight:bold;font-stretch:condensed;font-size:91px;fill:#dc9a1c;stroke:#17120c;stroke-width:12.0;paint-order:stroke;stroke-linejoin:miter;">H</text><text transform="translate(1200.0,818.3) scale(0.788,1)" text-anchor="middle" style="font-family:'DejaVu Serif','Liberation Serif',serif;font-weight:bold;font-stretch:condensed;font-size:91px;fill:#dc9a1c;stroke:#dc9a1c;stroke-width:2.5;">H</text>
<g clip-path="url(#glassc)"><text transform="translate(933.2,743.8) scale(0.605,1)" text-anchor="middle" style="font-family:'DejaVu Serif','Liberation Serif',serif;font-weight:bold;font-stretch:condensed;font-size:91px;fill:#c68f46;stroke:#4a463e;stroke-width:12.0;paint-order:stroke;stroke-linejoin:miter;">G</text><text transform="translate(933.2,743.8) scale(0.605,1)" text-anchor="middle" style="font-family:'DejaVu Serif','Liberation Serif',serif;font-weight:bold;font-stretch:condensed;font-size:91px;fill:#c68f46;stroke:#c68f46;stroke-width:2.5;">G</text><text transform="translate(993.6,743.8) scale(0.820,1)" text-anchor="middle" style="font-family:'DejaVu Serif','Liberation Serif',serif;font-weight:bold;font-stretch:condensed;font-size:91px;fill:#c68f46;stroke:#4a463e;stroke-width:12.0;paint-order:stroke;stroke-linejoin:miter;">E</text><text transform="translate(993.6,743.8) scale(0.820,1)" text-anchor="middle" style="font-family:'DejaVu Serif','Liberation Serif',serif;font-weight:bold;font-stretch:condensed;font-size:91px;fill:#c68f46;stroke:#c68f46;stroke-width:2.5;">E</text><text transform="translate(1052.1,743.8) scale(0.630,1)" text-anchor="middle" style="font-family:'DejaVu Serif','Liberation Serif',serif;font-weight:bold;font-stretch:condensed;font-size:91px;fill:#c68f46;stroke:#4a463e;stroke-width:12.0;paint-order:stroke;stroke-linejoin:miter;">O</text><text transform="translate(1052.1,743.8) scale(0.630,1)" text-anchor="middle" style="font-family:'DejaVu Serif','Liberation Serif',serif;font-weight:bold;font-stretch:condensed;font-size:91px;fill:#c68f46;stroke:#c68f46;stroke-width:2.5;">O</text><text transform="translate(1110.4,743.8) scale(0.694,1)" text-anchor="middle" style="font-family:'DejaVu Serif','Liberation Serif',serif;font-weight:bold;font-stretch:condensed;font-size:91px;fill:#c68f46;stroke:#4a463e;stroke-width:12.0;paint-order:stroke;stroke-linejoin:miter;">R</text><text transform="translate(1110.4,743.8) scale(0.694,1)" text-anchor="middle" style="font-family:'DejaVu Serif','Liberation Serif',serif;font-weight:bold;font-stretch:condensed;font-size:91px;fill:#c68f46;stroke:#c68f46;stroke-width:2.5;">R</text><text transform="translate(1171.8,743.8) scale(0.707,1)" text-anchor="middle" style="font-family:'DejaVu Serif','Liberation Serif',serif;font-weight:bold;font-stretch:condensed;font-size:91px;fill:#c68f46;stroke:#4a463e;stroke-width:12.0;paint-order:stroke;stroke-linejoin:miter;">G</text><text transform="translate(1171.8,743.8) scale(0.707,1)" text-anchor="middle" style="font-family:'DejaVu Serif','Liberation Serif',serif;font-weight:bold;font-stretch:condensed;font-size:91px;fill:#c68f46;stroke:#c68f46;stroke-width:2.5;">G</text><text transform="translate(1220.1,743.8) scale(0.607,1)" text-anchor="middle" style="font-family:'DejaVu Serif','Liberation Serif',serif;font-weight:bold;font-stretch:condensed;font-size:91px;fill:#c68f46;stroke:#4a463e;stroke-width:12.0;paint-order:stroke;stroke-linejoin:miter;">I</text><text transform="translate(1220.1,743.8) scale(0.607,1)" text-anchor="middle" style="font-family:'DejaVu Serif','Liberation Serif',serif;font-weight:bold;font-stretch:condensed;font-size:91px;fill:#c68f46;stroke:#c68f46;stroke-width:2.5;">I</text><text transform="translate(1269.5,743.8) scale(0.745,1)" text-anchor="middle" style="font-family:'DejaVu Serif','Liberation Serif',serif;font-weight:bold;font-stretch:condensed;font-size:91px;fill:#c68f46;stroke:#4a463e;stroke-width:12.0;paint-order:stroke;stroke-linejoin:miter;">A</text><text transform="translate(1269.5,743.8) scale(0.745,1)" text-anchor="middle" style="font-family:'DejaVu Serif','Liberation Serif',serif;font-weight:bold;font-stretch:condensed;font-size:91px;fill:#c68f46;stroke:#c68f46;stroke-width:2.5;">A</text><text transform="translate(1008.7,818.3) scale(0.800,1)" text-anchor="middle" style="font-family:'DejaVu Serif','Liberation Serif',serif;font-weight:bold;font-stretch:condensed;font-size:91px;fill:#c68f46;stroke:#4a463e;stroke-width:12.0;paint-order:stroke;stroke-linejoin:miter;">T</text><text transform="translate(1008.7,818.3) scale(0.800,1)" text-anchor="middle" style="font-family:'DejaVu Serif','Liberation Serif',serif;font-weight:bold;font-stretch:condensed;font-size:91px;fill:#c68f46;stroke:#c68f46;stroke-width:2.5;">T</text><text transform="translate(1075.2,818.3) scale(0.859,1)" text-anchor="middle" style="font-family:'DejaVu Serif','Liberation Serif',serif;font-weight:bold;font-stretch:condensed;font-size:91px;fill:#c68f46;stroke:#4a463e;stroke-width:12.0;paint-order:stroke;stroke-linejoin:miter;">E</text><text transform="translate(1075.2,818.3) scale(0.859,1)" text-anchor="middle" style="font-family:'DejaVu Serif','Liberation Serif',serif;font-weight:bold;font-stretch:condensed;font-size:91px;fill:#c68f46;stroke:#c68f46;stroke-width:2.5;">E</text><text transform="translate(1135.6,818.3) scale(0.744,1)" text-anchor="middle" style="font-family:'DejaVu Serif','Liberation Serif',serif;font-weight:bold;font-stretch:condensed;font-size:91px;fill:#c68f46;stroke:#4a463e;stroke-width:12.0;paint-order:stroke;stroke-linejoin:miter;">C</text><text transform="translate(1135.6,818.3) scale(0.744,1)" text-anchor="middle" style="font-family:'DejaVu Serif','Liberation Serif',serif;font-weight:bold;font-stretch:condensed;font-size:91px;fill:#c68f46;stroke:#c68f46;stroke-width:2.5;">C</text><text transform="translate(1200.0,818.3) scale(0.788,1)" text-anchor="middle" style="font-family:'DejaVu Serif','Liberation Serif',serif;font-weight:bold;font-stretch:condensed;font-size:91px;fill:#c68f46;stroke:#4a463e;stroke-width:12.0;paint-order:stroke;stroke-linejoin:miter;">H</text><text transform="translate(1200.0,818.3) scale(0.788,1)" text-anchor="middle" style="font-family:'DejaVu Serif','Liberation Serif',serif;font-weight:bold;font-stretch:condensed;font-size:91px;fill:#c68f46;stroke:#c68f46;stroke-width:2.5;">H</text></g>
</g>
<path d="M945,640 L945,838 L1100,828 L1219,822 L1305.5,809 L1305.5,803 L1282,760 L1262,712 L1255,640" fill="none" stroke="#8e8e8a" stroke-width="2" opacity="0.8"/>
<circle cx="1430" cy="620" r="129" fill="#3a2a1a" opacity="0.3" filter="url(#shadow)"/>
<circle cx="1432" cy="622.4" r="125" fill="url(#penny)"/>
<circle cx="1432" cy="622.4" r="125" fill="url(#pennyl)"/>
<ellipse cx="1452" cy="640" rx="40" ry="28" fill="#ffc27e" opacity="0.35" filter="url(#shadow)"/>
<ellipse cx="1530" cy="620" rx="14" ry="60" fill="#ffb070" opacity="0.3" filter="url(#shadow)"/>
<circle cx="1432" cy="622.4" r="119" fill="none" stroke="#c06a30" stroke-width="4" opacity="0.8"/>
<circle cx="1432" cy="622.4" r="124" fill="none" stroke="#6a3010" stroke-width="2" opacity="0.8"/>
<path d="M1360,580 C1385,576 1410,570 1426,557 C1446,568 1472,568 1497,567 L1500,624 C1500,650 1496,672 1482,690 C1466,708 1450,724 1437,735 C1420,722 1398,706 1384,690 C1368,670 1362,650 1362,626 Z" fill="#8e4420" fill-opacity="0.35" stroke="#f8c890" stroke-width="2.5"/>
<path d="M1372.0,612 L1371.5,642 M1381.0,612 L1380.5,642 M1390.0,612 L1389.5,642 M1399.0,612 L1398.5,642 M1408.0,612 L1407.5,642 M1417.0,612 L1416.5,642 M1426.0,612 L1425.5,642 M1435.0,612 L1434.5,642 M1444.0,612 L1444.5,642 M1453.0,612 L1453.5,642 M1462.0,612 L1462.5,642 M1471.0,612 L1471.5,642 M1480.0,612 L1480.5,642 M1489.0,612 L1489.5,642" stroke="#f0b07a" stroke-width="2" opacity="0.75"/>
<path d="M1368,610 L1498,610" stroke="#f0b07a" stroke-width="2"/>
<path d="M1364,580 L1497,578 L1497,600 L1364,602 Z" fill="#7a3818" fill-opacity="0.45" stroke="#f6bc84" stroke-width="2"/>
<text x="1430" y="597" text-anchor="middle" textLength="126" lengthAdjust="spacingAndGlyphs" style="font-family:'Liberation Serif',serif;font-size:20px;fill:#f6c08c;opacity:0.8;">E PLURIBUS UNUM</text>
<path d="M1342,655 C1390,648 1470,648 1524,652 L1522,686 C1470,684 1390,684 1345,690 Z" fill="#c0703a" fill-opacity="0.55" stroke="#f6bc84" stroke-width="2"/>
<text x="1433" y="682" text-anchor="middle" textLength="150" lengthAdjust="spacingAndGlyphs" style="font-family:'Liberation Serif',serif;font-size:30px;fill:#f8c898;stroke:#6a3010;stroke-width:1;paint-order:stroke;opacity:0.85;">ONE CENT</text>
<text textLength="312" lengthAdjust="spacingAndGlyphs" style="font-family:'Liberation Serif',serif;font-size:20px;fill:#f6c090;opacity:0.75;"><textPath href="#rimtxt" startOffset="1%" textLength="312" lengthAdjust="spacingAndGlyphs">UNITED STATES OF AMERICA</textPath></text>
</g>
<rect x="900.5" y="872.0" width="853.3" height="553.8" fill="#fff"/>
<rect x="900.5" y="872.0" width="853.3" height="187.0" fill="#e6e6e6"/>
<line x1="900.5" y1="1151.1" x2="1753.8" y2="1151.1" stroke="#c8c8c8" stroke-width="2"/>
<line x1="900.5" y1="1243.0" x2="1753.8" y2="1243.0" stroke="#c8c8c8" stroke-width="2"/>
<line x1="900.5" y1="1334.6" x2="1753.8" y2="1334.6" stroke="#c8c8c8" stroke-width="2"/>
<line x1="1322.2" y1="1059.0" x2="1322.2" y2="1425.8" stroke="#c8c8c8" stroke-width="2"/>
<line x1="1322.2" y1="968.8" x2="1322.2" y2="1059.0" stroke="#8c8c8c" stroke-width="2"/>
<line x1="1543.2" y1="1059.0" x2="1543.2" y2="1425.8" stroke="#c8c8c8" stroke-width="2"/>
<line x1="1543.2" y1="968.8" x2="1543.2" y2="1059.0" stroke="#8c8c8c" stroke-width="2"/>
<line x1="900.5" y1="968.8" x2="1753.8" y2="968.8" stroke="#808080" stroke-width="2"/>
<line x1="900.5" y1="1059.0" x2="1753.8" y2="1059.0" stroke="#222" stroke-width="3"/>
<rect x="900.5" y="872.0" width="853.3" height="553.8" fill="none" stroke="#2a2a2a" stroke-width="2.5"/>
<text class="th1" x="1329.5" y="941.6" text-anchor="middle" textLength="152.4" lengthAdjust="spacingAndGlyphs">T (%)</text>
<text class="th2" x="1115.7" y="1038" text-anchor="middle" textLength="395" lengthAdjust="spacingAndGlyphs">Wavelength (nm)</text>
<text class="th2" x="1432.9" y="1038" text-anchor="middle" textLength="121.5" lengthAdjust="spacingAndGlyphs">Silica</text>
<text class="th2" x="1651" y="1038" text-anchor="middle" textLength="131.5" lengthAdjust="spacingAndGlyphs">Glass</text>
<text class="td" x="1303.5" y="1110.5" text-anchor="end">400</text>
<text class="td" x="1524" y="1110.5" text-anchor="end">90</text>
<text class="td" x="1733.6" y="1110.5" text-anchor="end">75</text>
<text class="td" x="1303.5" y="1198.3" text-anchor="end">390</text>
<text class="td" x="1524" y="1198.3" text-anchor="end">85</text>
<text class="td" x="1733.6" y="1198.3" text-anchor="end">63</text>
<text class="td" x="1303.5" y="1289.8" text-anchor="end">385</text>
<text class="td" x="1524" y="1289.8" text-anchor="end">75</text>
<text class="td" x="1733.6" y="1289.8" text-anchor="end">53</text>
<text class="td" x="1303.5" y="1381.8" text-anchor="end">383</text>
<text class="td" x="1524" y="1381.8" text-anchor="end">70</text>
<text class="td" x="1733.6" y="1381.8" text-anchor="end">49</text>
</svg>
</body></html>
